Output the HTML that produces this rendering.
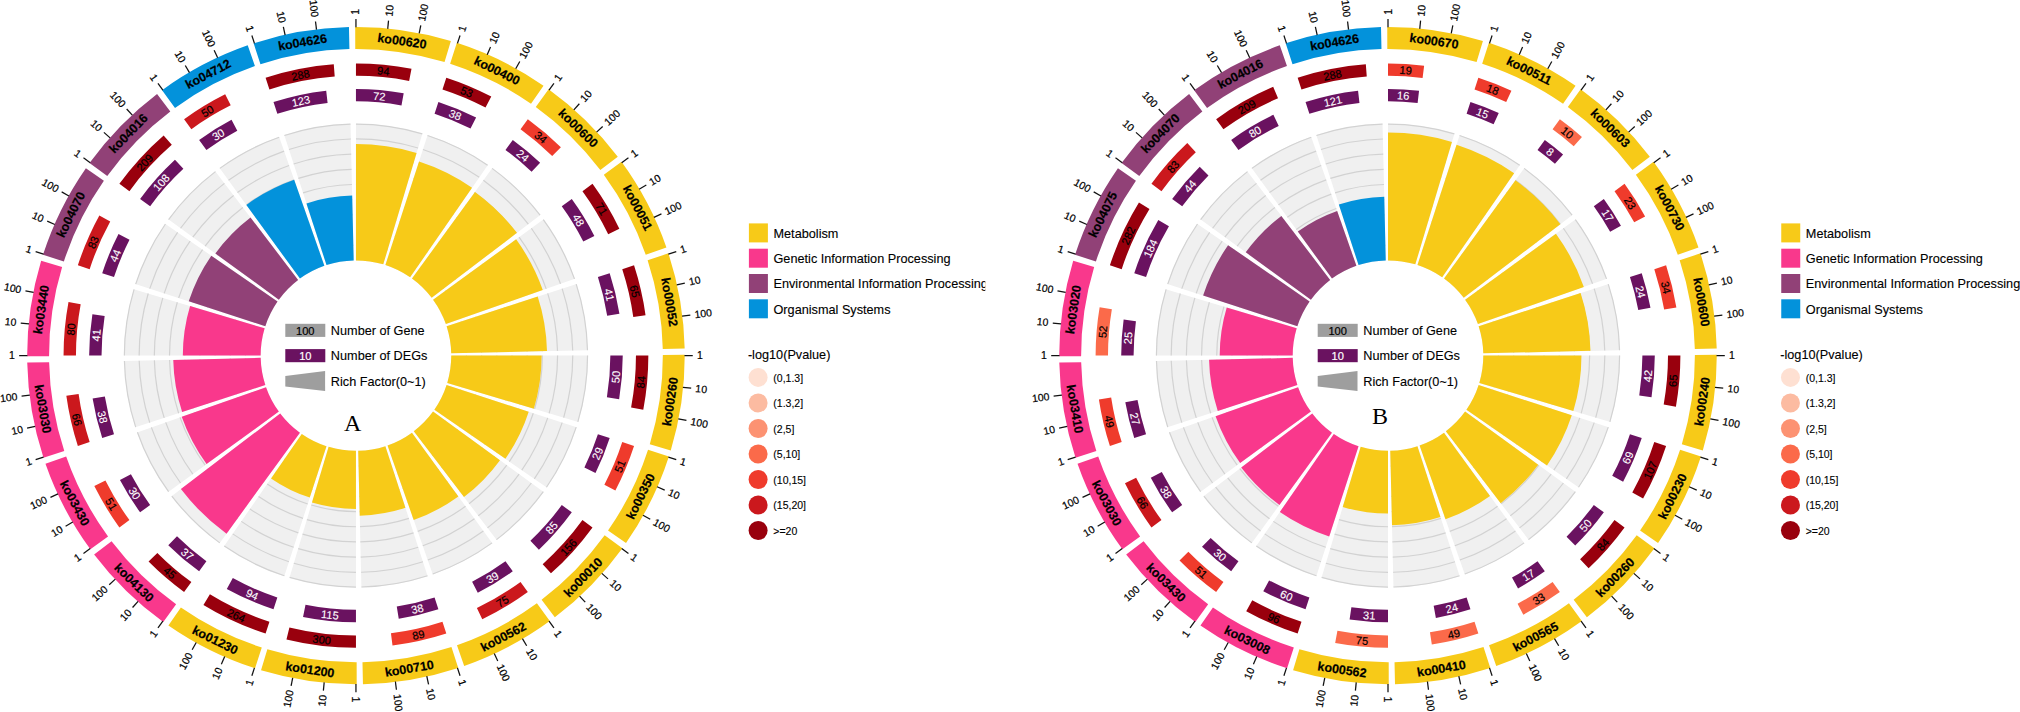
<!DOCTYPE html>
<html lang="en"><head><meta charset="utf-8"><title>KEGG enrichment circle plots</title>
<style>
html,body{margin:0;padding:0;background:#fff;}
body{width:2020px;height:712px;overflow:hidden;}
svg{display:block;}
text{font-family:"Liberation Sans",Arial,Helvetica,sans-serif;fill:#000;stroke:#000;stroke-width:0.2px;}
.ax{font-size:10.45px;dominant-baseline:central;}
.nu{font-size:11.1px;text-anchor:middle;dominant-baseline:central;}
.nm{font-size:12.5px;font-weight:bold;text-anchor:middle;dominant-baseline:central;fill:#000;}
.lg{font-size:12.7px;stroke-width:0.12px;}
.l2{font-size:10.5px;stroke-width:0.12px;}
.ab{font-family:"Liberation Serif","Times New Roman",serif;font-size:24px;text-anchor:middle;fill:#000;stroke:none;}
</style></head>
<body>
<svg width="2020" height="712" viewBox="0 0 2020 712">
<defs><clipPath id="clipA"><rect x="700" y="0" width="285.3" height="712"/></clipPath></defs>
<rect width="2020" height="712" fill="#fff"/>
<g transform="translate(355.95 355.62) scale(1 0.9994) translate(-355.95 -355.62)">
<path d="M355.95 123.62A232 232 0 0 1 422.42 133.35L383.26 264.32A95.3 95.3 0 0 0 355.95 260.32Z" fill="#F0F0F0"/>
<path d="M355.95 245.13A110.49 110.49 0 0 1 387.61 249.76" fill="none" stroke="#D2D2D2" stroke-width="1.2"/>
<path d="M355.95 229.94A125.68 125.68 0 0 1 391.96 235.21" fill="none" stroke="#D2D2D2" stroke-width="1.2"/>
<path d="M355.95 214.75A140.87 140.87 0 0 1 396.31 220.66" fill="none" stroke="#D2D2D2" stroke-width="1.2"/>
<path d="M355.95 199.56A156.06 156.06 0 0 1 400.66 206.11" fill="none" stroke="#D2D2D2" stroke-width="1.2"/>
<path d="M355.95 184.38A171.24 171.24 0 0 1 405.02 191.56" fill="none" stroke="#D2D2D2" stroke-width="1.2"/>
<path d="M355.95 169.19A186.43 186.43 0 0 1 409.37 177" fill="none" stroke="#D2D2D2" stroke-width="1.2"/>
<path d="M355.95 154A201.62 201.62 0 0 1 413.72 162.45" fill="none" stroke="#D2D2D2" stroke-width="1.2"/>
<path d="M355.95 138.81A216.81 216.81 0 0 1 418.07 147.9" fill="none" stroke="#D2D2D2" stroke-width="1.2"/>
<path d="M355.95 124.02A231.6 231.6 0 0 1 422.31 133.73" fill="none" stroke="#D2D2D2" stroke-width="1.2"/>
<path d="M355.95 143.98A211.64 211.64 0 0 1 416.59 152.85L383.26 264.32A95.3 95.3 0 0 0 355.95 260.32Z" fill="#F7CA18"/>
<path d="M355.2 26.82A328.8 328.8 0 0 1 450.87 40.82L444.55 61.79A306.9 306.9 0 0 0 355.25 48.72Z" fill="#F7CA18"/>
<path d="M355.95 27.12L355.95 18.82" stroke="#111" stroke-width="1.25"/>
<text class="ax" text-anchor="start" transform="translate(355.95 14.52) rotate(-90)">1</text>
<path d="M387.72 28.66L388.52 20.4" stroke="#111" stroke-width="1.25"/>
<text class="ax" text-anchor="start" transform="translate(388.94 16.12) rotate(-84.45)">10</text>
<path d="M419.19 33.27L420.79 25.12" stroke="#111" stroke-width="1.25"/>
<text class="ax" text-anchor="start" transform="translate(421.62 20.9) rotate(-78.9)">100</text>
<text class="nm" transform="translate(401.97 41.12) rotate(8.32)">ko00620</text>
<path d="M355.95 63.22A292.4 292.4 0 0 1 411.5 68.54L409.14 80.72A280 280 0 0 0 355.95 75.62Z" fill="#99000D"/>
<text class="nu" transform="translate(383.26 70.73) rotate(5.48)">94</text>
<path d="M355.95 88.82A266.8 266.8 0 0 1 403.69 93.13L401.47 105.33A254.4 254.4 0 0 0 355.95 101.22Z" fill="#6A1260"/>
<text class="nu" transform="translate(379.36 96.07) rotate(5.15)" style="fill:#fff;stroke:#fff;stroke-width:0.1px">72</text>
<path d="M427.64 134.97A232 232 0 0 1 487.86 164.77L410.13 277.22A95.3 95.3 0 0 0 385.4 264.98Z" fill="#F0F0F0"/>
<path d="M390.09 250.54A110.49 110.49 0 0 1 418.77 264.73" fill="none" stroke="#D2D2D2" stroke-width="1.2"/>
<path d="M394.79 236.09A125.68 125.68 0 0 1 427.41 252.23" fill="none" stroke="#D2D2D2" stroke-width="1.2"/>
<path d="M399.48 221.65A140.87 140.87 0 0 1 436.04 239.74" fill="none" stroke="#D2D2D2" stroke-width="1.2"/>
<path d="M404.17 207.2A156.06 156.06 0 0 1 444.68 227.24" fill="none" stroke="#D2D2D2" stroke-width="1.2"/>
<path d="M408.87 192.76A171.24 171.24 0 0 1 453.31 214.75" fill="none" stroke="#D2D2D2" stroke-width="1.2"/>
<path d="M413.56 178.31A186.43 186.43 0 0 1 461.95 202.25" fill="none" stroke="#D2D2D2" stroke-width="1.2"/>
<path d="M418.25 163.87A201.62 201.62 0 0 1 470.58 189.76" fill="none" stroke="#D2D2D2" stroke-width="1.2"/>
<path d="M422.95 149.42A216.81 216.81 0 0 1 479.22 177.26" fill="none" stroke="#D2D2D2" stroke-width="1.2"/>
<path d="M427.52 135.36A231.6 231.6 0 0 1 487.63 165.1" fill="none" stroke="#D2D2D2" stroke-width="1.2"/>
<path d="M419.05 161.41A204.2 204.2 0 0 1 472.05 187.64L410.13 277.22A95.3 95.3 0 0 0 385.4 264.98Z" fill="#F7CA18"/>
<path d="M456.85 42.68A328.8 328.8 0 0 1 543.51 85.56L531.01 103.55A306.9 306.9 0 0 0 450.12 63.53Z" fill="#F7CA18"/>
<path d="M457.46 43.2L460.03 35.3" stroke="#111" stroke-width="1.25"/>
<text class="ax" text-anchor="start" transform="translate(461.36 31.21) rotate(-72)">1</text>
<path d="M487.2 54.48L490.52 46.87" stroke="#111" stroke-width="1.25"/>
<text class="ax" text-anchor="start" transform="translate(492.24 42.93) rotate(-66.45)">10</text>
<path d="M515.71 68.59L519.75 61.33" stroke="#111" stroke-width="1.25"/>
<text class="ax" text-anchor="start" transform="translate(521.84 57.58) rotate(-60.9)">100</text>
<text class="nm" transform="translate(496.9 70.73) rotate(26.32)">ko00400</text>
<path d="M446.31 77.53A292.4 292.4 0 0 1 491.28 96.42L485.54 107.41A280 280 0 0 0 442.47 89.32Z" fill="#99000D"/>
<text class="nu" transform="translate(466.79 91.75) rotate(22.78)">53</text>
<path d="M438.4 101.88A266.8 266.8 0 0 1 476.11 117.41L470.53 128.48A254.4 254.4 0 0 0 434.56 113.67Z" fill="#6A1260"/>
<text class="nu" transform="translate(455.19 114.66) rotate(22.38)" style="fill:#fff;stroke:#fff;stroke-width:0.1px">38</text>
<path d="M492.32 167.93A232 232 0 0 1 540.38 214.87L431.71 297.8A95.3 95.3 0 0 0 411.97 278.52Z" fill="#F0F0F0"/>
<path d="M420.89 266.23A110.49 110.49 0 0 1 443.78 288.59" fill="none" stroke="#D2D2D2" stroke-width="1.2"/>
<path d="M429.82 253.94A125.68 125.68 0 0 1 455.86 279.37" fill="none" stroke="#D2D2D2" stroke-width="1.2"/>
<path d="M438.75 241.66A140.87 140.87 0 0 1 467.93 270.16" fill="none" stroke="#D2D2D2" stroke-width="1.2"/>
<path d="M447.68 229.37A156.06 156.06 0 0 1 480.01 260.94" fill="none" stroke="#D2D2D2" stroke-width="1.2"/>
<path d="M456.6 217.08A171.24 171.24 0 0 1 492.08 251.73" fill="none" stroke="#D2D2D2" stroke-width="1.2"/>
<path d="M465.53 204.79A186.43 186.43 0 0 1 504.15 242.51" fill="none" stroke="#D2D2D2" stroke-width="1.2"/>
<path d="M474.46 192.5A201.62 201.62 0 0 1 516.23 233.3" fill="none" stroke="#D2D2D2" stroke-width="1.2"/>
<path d="M483.39 180.22A216.81 216.81 0 0 1 528.3 224.08" fill="none" stroke="#D2D2D2" stroke-width="1.2"/>
<path d="M492.08 168.25A231.6 231.6 0 0 1 540.06 215.11" fill="none" stroke="#D2D2D2" stroke-width="1.2"/>
<path d="M474.99 191.78A202.52 202.52 0 0 1 516.94 232.76L431.71 297.8A95.3 95.3 0 0 0 411.97 278.52Z" fill="#F7CA18"/>
<path d="M548.61 89.18A328.8 328.8 0 0 1 617.78 156.74L600.34 169.98A306.9 306.9 0 0 0 535.78 106.92Z" fill="#F7CA18"/>
<path d="M549.04 89.86L553.92 83.14" stroke="#111" stroke-width="1.25"/>
<text class="ax" text-anchor="start" transform="translate(556.44 79.66) rotate(-54)">1</text>
<path d="M573.84 109.78L579.34 103.57" stroke="#111" stroke-width="1.25"/>
<text class="ax" text-anchor="start" transform="translate(582.19 100.35) rotate(-48.45)">10</text>
<path d="M596.59 132L602.67 126.35" stroke="#111" stroke-width="1.25"/>
<text class="ax" text-anchor="start" transform="translate(605.82 123.43) rotate(-42.9)">100</text>
<text class="nm" transform="translate(578.04 128.23) rotate(44.32)">ko00600</text>
<path d="M527.82 119.06A292.4 292.4 0 0 1 560.89 147.06L552.2 155.91A280 280 0 0 0 520.53 129.1Z" fill="#EF3B2C"/>
<text class="nu" transform="translate(540.87 137.18) rotate(40.25)">34</text>
<path d="M512.77 139.77A266.8 266.8 0 0 1 540.14 162.6L531.58 171.58A254.4 254.4 0 0 0 505.48 149.81Z" fill="#6A1260"/>
<text class="nu" transform="translate(522.87 155.49) rotate(39.83)" style="fill:#fff;stroke:#fff;stroke-width:0.1px">24</text>
<path d="M543.64 219.25A232 232 0 0 1 574.84 278.75L445.87 324.04A95.3 95.3 0 0 0 433.05 299.6Z" fill="#F0F0F0"/>
<path d="M445.34 290.68A110.49 110.49 0 0 1 460.2 319.01" fill="none" stroke="#D2D2D2" stroke-width="1.2"/>
<path d="M457.63 281.75A125.68 125.68 0 0 1 474.53 313.98" fill="none" stroke="#D2D2D2" stroke-width="1.2"/>
<path d="M469.91 272.82A140.87 140.87 0 0 1 488.86 308.95" fill="none" stroke="#D2D2D2" stroke-width="1.2"/>
<path d="M482.2 263.89A156.06 156.06 0 0 1 503.19 303.91" fill="none" stroke="#D2D2D2" stroke-width="1.2"/>
<path d="M494.49 254.97A171.24 171.24 0 0 1 517.52 298.88" fill="none" stroke="#D2D2D2" stroke-width="1.2"/>
<path d="M506.78 246.04A186.43 186.43 0 0 1 531.85 293.85" fill="none" stroke="#D2D2D2" stroke-width="1.2"/>
<path d="M519.07 237.11A201.62 201.62 0 0 1 546.18 288.81" fill="none" stroke="#D2D2D2" stroke-width="1.2"/>
<path d="M531.35 228.18A216.81 216.81 0 0 1 560.51 283.78" fill="none" stroke="#D2D2D2" stroke-width="1.2"/>
<path d="M543.32 219.49A231.6 231.6 0 0 1 574.47 278.88" fill="none" stroke="#D2D2D2" stroke-width="1.2"/>
<path d="M516.12 239.25A197.99 197.99 0 0 1 542.75 290.02L445.87 324.04A95.3 95.3 0 0 0 433.05 299.6Z" fill="#F7CA18"/>
<path d="M621.52 161.75A328.8 328.8 0 0 1 666.42 247.38L645.74 254.59A306.9 306.9 0 0 0 603.83 174.67Z" fill="#F7CA18"/>
<path d="M621.71 162.53L628.43 157.65" stroke="#111" stroke-width="1.25"/>
<text class="ax" text-anchor="start" transform="translate(631.91 155.13) rotate(-36)">1</text>
<path d="M639.14 189.14L646.3 184.93" stroke="#111" stroke-width="1.25"/>
<text class="ax" text-anchor="start" transform="translate(650 182.76) rotate(-30.45)">10</text>
<path d="M653.91 217.31L661.44 213.82" stroke="#111" stroke-width="1.25"/>
<text class="ax" text-anchor="start" transform="translate(665.34 212) rotate(-24.9)">100</text>
<text class="nm" transform="translate(637.44 207.99) rotate(62.32)">ko00051</text>
<path d="M592.51 183.75A292.4 292.4 0 0 1 619.37 228.7L608.2 234.08A280 280 0 0 0 582.47 191.04Z" fill="#99000D"/>
<text class="nu" transform="translate(601.62 208.8) rotate(59.14)">71</text>
<path d="M571.8 198.8A266.8 266.8 0 0 1 594.37 235.87L583.29 241.44A254.4 254.4 0 0 0 561.76 206.09Z" fill="#6A1260"/>
<text class="nu" transform="translate(578.54 220.1) rotate(58.67)" style="fill:#fff;stroke:#fff;stroke-width:0.1px">48</text>
<path d="M576.6 283.93A232 232 0 0 1 587.89 350.15L451.22 353.37A95.3 95.3 0 0 0 446.59 326.17Z" fill="#F0F0F0"/>
<path d="M461.03 321.48A110.49 110.49 0 0 1 466.41 353.02" fill="none" stroke="#D2D2D2" stroke-width="1.2"/>
<path d="M475.48 316.78A125.68 125.68 0 0 1 481.59 352.66" fill="none" stroke="#D2D2D2" stroke-width="1.2"/>
<path d="M489.92 312.09A140.87 140.87 0 0 1 496.78 352.3" fill="none" stroke="#D2D2D2" stroke-width="1.2"/>
<path d="M504.37 307.4A156.06 156.06 0 0 1 511.96 351.94" fill="none" stroke="#D2D2D2" stroke-width="1.2"/>
<path d="M518.81 302.7A171.24 171.24 0 0 1 527.15 351.59" fill="none" stroke="#D2D2D2" stroke-width="1.2"/>
<path d="M533.26 298.01A186.43 186.43 0 0 1 542.33 351.23" fill="none" stroke="#D2D2D2" stroke-width="1.2"/>
<path d="M547.7 293.32A201.62 201.62 0 0 1 557.52 350.87" fill="none" stroke="#D2D2D2" stroke-width="1.2"/>
<path d="M562.15 288.62A216.81 216.81 0 0 1 572.7 350.51" fill="none" stroke="#D2D2D2" stroke-width="1.2"/>
<path d="M576.21 284.05A231.6 231.6 0 0 1 587.49 350.16" fill="none" stroke="#D2D2D2" stroke-width="1.2"/>
<path d="M537.7 296.56A191.11 191.11 0 0 1 547 351.12L451.22 353.37A95.3 95.3 0 0 0 446.59 326.17Z" fill="#F7CA18"/>
<path d="M668.43 253.31A328.8 328.8 0 0 1 684.68 348.62L662.78 349.09A306.9 306.9 0 0 0 647.61 260.12Z" fill="#F7CA18"/>
<path d="M668.37 254.11L676.27 251.54" stroke="#111" stroke-width="1.25"/>
<text class="ax" text-anchor="start" transform="translate(680.36 250.21) rotate(-18)">1</text>
<path d="M676.73 284.8L684.83 283.01" stroke="#111" stroke-width="1.25"/>
<text class="ax" text-anchor="start" transform="translate(689.03 282.08) rotate(-12.45)">10</text>
<path d="M682.07 316.16L690.31 315.16" stroke="#111" stroke-width="1.25"/>
<text class="ax" text-anchor="start" transform="translate(694.58 314.64) rotate(-6.9)">100</text>
<text class="nm" transform="translate(669.28 302.2) rotate(80.32)">ko00052</text>
<path d="M634.04 265.26A292.4 292.4 0 0 1 645.55 315.24L633.27 316.95A280 280 0 0 0 622.25 269.1Z" fill="#99000D"/>
<text class="nu" transform="translate(634.85 291.39) rotate(77.03)">65</text>
<path d="M609.69 273.17A266.8 266.8 0 0 1 619.43 313.66L607.18 315.61A254.4 254.4 0 0 0 597.9 277.01Z" fill="#6A1260"/>
<text class="nu" transform="translate(609.32 294.68) rotate(76.48)" style="fill:#fff;stroke:#fff;stroke-width:0.1px">41</text>
<path d="M587.95 355.62A232 232 0 0 1 578.22 422.09L447.25 382.93A95.3 95.3 0 0 0 451.25 355.62Z" fill="#F0F0F0"/>
<path d="M466.44 355.62A110.49 110.49 0 0 1 461.81 387.28" fill="none" stroke="#D2D2D2" stroke-width="1.2"/>
<path d="M481.63 355.62A125.68 125.68 0 0 1 476.36 391.63" fill="none" stroke="#D2D2D2" stroke-width="1.2"/>
<path d="M496.82 355.62A140.87 140.87 0 0 1 490.91 395.98" fill="none" stroke="#D2D2D2" stroke-width="1.2"/>
<path d="M512.01 355.62A156.06 156.06 0 0 1 505.46 400.33" fill="none" stroke="#D2D2D2" stroke-width="1.2"/>
<path d="M527.19 355.62A171.24 171.24 0 0 1 520.01 404.69" fill="none" stroke="#D2D2D2" stroke-width="1.2"/>
<path d="M542.38 355.62A186.43 186.43 0 0 1 534.57 409.04" fill="none" stroke="#D2D2D2" stroke-width="1.2"/>
<path d="M557.57 355.62A201.62 201.62 0 0 1 549.12 413.39" fill="none" stroke="#D2D2D2" stroke-width="1.2"/>
<path d="M572.76 355.62A216.81 216.81 0 0 1 563.67 417.74" fill="none" stroke="#D2D2D2" stroke-width="1.2"/>
<path d="M587.55 355.62A231.6 231.6 0 0 1 577.84 421.98" fill="none" stroke="#D2D2D2" stroke-width="1.2"/>
<path d="M541.66 355.62A185.71 185.71 0 0 1 533.87 408.83L447.25 382.93A95.3 95.3 0 0 0 451.25 355.62Z" fill="#F7CA18"/>
<path d="M684.75 354.87A328.8 328.8 0 0 1 670.75 450.54L649.78 444.22A306.9 306.9 0 0 0 662.85 354.92Z" fill="#F7CA18"/>
<path d="M684.45 355.62L692.75 355.62" stroke="#111" stroke-width="1.25"/>
<text class="ax" text-anchor="start" transform="translate(697.05 355.62) rotate(0)">1</text>
<path d="M682.91 387.39L691.17 388.19" stroke="#111" stroke-width="1.25"/>
<text class="ax" text-anchor="start" transform="translate(695.45 388.61) rotate(5.55)">10</text>
<path d="M678.3 418.86L686.45 420.46" stroke="#111" stroke-width="1.25"/>
<text class="ax" text-anchor="start" transform="translate(690.67 421.29) rotate(11.1)">100</text>
<text class="nm" transform="translate(670.45 401.64) rotate(-81.68)">ko00260</text>
<path d="M648.35 355.62A292.4 292.4 0 0 1 643.29 409.81L631.1 407.51A280 280 0 0 0 635.95 355.62Z" fill="#99000D"/>
<text class="nu" transform="translate(640.91 382.25) rotate(-84.66)">84</text>
<path d="M622.75 355.62A266.8 266.8 0 0 1 619.15 399.33L606.91 397.3A254.4 254.4 0 0 0 610.35 355.62Z" fill="#6A1260"/>
<text class="nu" transform="translate(615.67 377.04) rotate(-85.29)" style="fill:#fff;stroke:#fff;stroke-width:0.1px">50</text>
<path d="M576.6 427.31A232 232 0 0 1 546.8 487.53L434.35 409.8A95.3 95.3 0 0 0 446.59 385.07Z" fill="#F0F0F0"/>
<path d="M461.03 389.76A110.49 110.49 0 0 1 446.84 418.44" fill="none" stroke="#D2D2D2" stroke-width="1.2"/>
<path d="M475.48 394.46A125.68 125.68 0 0 1 459.34 427.08" fill="none" stroke="#D2D2D2" stroke-width="1.2"/>
<path d="M489.92 399.15A140.87 140.87 0 0 1 471.83 435.71" fill="none" stroke="#D2D2D2" stroke-width="1.2"/>
<path d="M504.37 403.84A156.06 156.06 0 0 1 484.33 444.35" fill="none" stroke="#D2D2D2" stroke-width="1.2"/>
<path d="M518.81 408.54A171.24 171.24 0 0 1 496.82 452.98" fill="none" stroke="#D2D2D2" stroke-width="1.2"/>
<path d="M533.26 413.23A186.43 186.43 0 0 1 509.32 461.62" fill="none" stroke="#D2D2D2" stroke-width="1.2"/>
<path d="M547.7 417.92A201.62 201.62 0 0 1 521.81 470.25" fill="none" stroke="#D2D2D2" stroke-width="1.2"/>
<path d="M562.15 422.62A216.81 216.81 0 0 1 534.31 478.89" fill="none" stroke="#D2D2D2" stroke-width="1.2"/>
<path d="M576.21 427.19A231.6 231.6 0 0 1 546.47 487.3" fill="none" stroke="#D2D2D2" stroke-width="1.2"/>
<path d="M528.73 411.76A181.67 181.67 0 0 1 505.4 458.91L434.35 409.8A95.3 95.3 0 0 0 446.59 385.07Z" fill="#F7CA18"/>
<path d="M668.89 456.52A328.8 328.8 0 0 1 626.01 543.18L608.02 530.68A306.9 306.9 0 0 0 648.04 449.79Z" fill="#F7CA18"/>
<path d="M668.37 457.13L676.27 459.7" stroke="#111" stroke-width="1.25"/>
<text class="ax" text-anchor="start" transform="translate(680.36 461.03) rotate(18)">1</text>
<path d="M657.09 486.87L664.7 490.19" stroke="#111" stroke-width="1.25"/>
<text class="ax" text-anchor="start" transform="translate(668.64 491.91) rotate(23.55)">10</text>
<path d="M642.98 515.38L650.24 519.42" stroke="#111" stroke-width="1.25"/>
<text class="ax" text-anchor="start" transform="translate(653.99 521.51) rotate(29.1)">100</text>
<text class="nm" transform="translate(640.84 496.57) rotate(-63.68)">ko00350</text>
<path d="M634.04 445.98A292.4 292.4 0 0 1 615.37 490.53L604.36 484.81A280 280 0 0 0 622.25 442.14Z" fill="#EF3B2C"/>
<text class="nu" transform="translate(619.91 466.24) rotate(-67.26)">51</text>
<path d="M609.69 438.07A266.8 266.8 0 0 1 595.51 473.06L584.38 467.61A254.4 254.4 0 0 0 597.9 434.23Z" fill="#6A1260"/>
<text class="nu" transform="translate(597.47 453.49) rotate(-67.94)" style="fill:#fff;stroke:#fff;stroke-width:0.1px">29</text>
<path d="M543.64 491.99A232 232 0 0 1 496.7 540.05L413.77 431.38A95.3 95.3 0 0 0 433.05 411.64Z" fill="#F0F0F0"/>
<path d="M445.34 420.56A110.49 110.49 0 0 1 422.98 443.45" fill="none" stroke="#D2D2D2" stroke-width="1.2"/>
<path d="M457.63 429.49A125.68 125.68 0 0 1 432.2 455.53" fill="none" stroke="#D2D2D2" stroke-width="1.2"/>
<path d="M469.91 438.42A140.87 140.87 0 0 1 441.41 467.6" fill="none" stroke="#D2D2D2" stroke-width="1.2"/>
<path d="M482.2 447.35A156.06 156.06 0 0 1 450.63 479.68" fill="none" stroke="#D2D2D2" stroke-width="1.2"/>
<path d="M494.49 456.27A171.24 171.24 0 0 1 459.84 491.75" fill="none" stroke="#D2D2D2" stroke-width="1.2"/>
<path d="M506.78 465.2A186.43 186.43 0 0 1 469.06 503.82" fill="none" stroke="#D2D2D2" stroke-width="1.2"/>
<path d="M519.07 474.13A201.62 201.62 0 0 1 478.27 515.9" fill="none" stroke="#D2D2D2" stroke-width="1.2"/>
<path d="M531.35 483.06A216.81 216.81 0 0 1 487.49 527.97" fill="none" stroke="#D2D2D2" stroke-width="1.2"/>
<path d="M543.32 491.75A231.6 231.6 0 0 1 496.46 539.73" fill="none" stroke="#D2D2D2" stroke-width="1.2"/>
<path d="M500 460.28A178.06 178.06 0 0 1 463.98 497.17L413.77 431.38A95.3 95.3 0 0 0 433.05 411.64Z" fill="#F7CA18"/>
<path d="M622.39 548.28A328.8 328.8 0 0 1 554.83 617.45L541.59 600.01A306.9 306.9 0 0 0 604.65 535.45Z" fill="#F7CA18"/>
<path d="M621.71 548.71L628.43 553.59" stroke="#111" stroke-width="1.25"/>
<text class="ax" text-anchor="start" transform="translate(631.91 556.11) rotate(36)">1</text>
<path d="M601.79 573.51L608 579.01" stroke="#111" stroke-width="1.25"/>
<text class="ax" text-anchor="start" transform="translate(611.22 581.86) rotate(41.55)">10</text>
<path d="M579.57 596.26L585.22 602.34" stroke="#111" stroke-width="1.25"/>
<text class="ax" text-anchor="start" transform="translate(588.14 605.49) rotate(47.1)">100</text>
<text class="nm" transform="translate(583.34 577.71) rotate(-45.68)">ko00010</text>
<path d="M592.51 527.49A292.4 292.4 0 0 1 550.95 573.5L542.68 564.26A280 280 0 0 0 582.47 520.2Z" fill="#99000D"/>
<text class="nu" transform="translate(568.35 547.44) rotate(-47.91)">156</text>
<path d="M571.8 512.44A266.8 266.8 0 0 1 538.9 549.82L530.4 540.79A254.4 254.4 0 0 0 561.76 505.15Z" fill="#6A1260"/>
<text class="nu" transform="translate(551.57 527.8) rotate(-48.65)" style="fill:#fff;stroke:#fff;stroke-width:0.1px">85</text>
<path d="M492.32 543.31A232 232 0 0 1 432.82 574.51L387.53 445.54A95.3 95.3 0 0 0 411.97 432.72Z" fill="#F0F0F0"/>
<path d="M420.89 445.01A110.49 110.49 0 0 1 392.56 459.87" fill="none" stroke="#D2D2D2" stroke-width="1.2"/>
<path d="M429.82 457.3A125.68 125.68 0 0 1 397.59 474.2" fill="none" stroke="#D2D2D2" stroke-width="1.2"/>
<path d="M438.75 469.58A140.87 140.87 0 0 1 402.62 488.53" fill="none" stroke="#D2D2D2" stroke-width="1.2"/>
<path d="M447.68 481.87A156.06 156.06 0 0 1 407.66 502.86" fill="none" stroke="#D2D2D2" stroke-width="1.2"/>
<path d="M456.6 494.16A171.24 171.24 0 0 1 412.69 517.19" fill="none" stroke="#D2D2D2" stroke-width="1.2"/>
<path d="M465.53 506.45A186.43 186.43 0 0 1 417.72 531.52" fill="none" stroke="#D2D2D2" stroke-width="1.2"/>
<path d="M474.46 518.74A201.62 201.62 0 0 1 422.76 545.85" fill="none" stroke="#D2D2D2" stroke-width="1.2"/>
<path d="M483.39 531.02A216.81 216.81 0 0 1 427.79 560.18" fill="none" stroke="#D2D2D2" stroke-width="1.2"/>
<path d="M492.08 542.99A231.6 231.6 0 0 1 432.69 574.14" fill="none" stroke="#D2D2D2" stroke-width="1.2"/>
<path d="M458.39 496.62A174.28 174.28 0 0 1 413.7 520.06L387.53 445.54A95.3 95.3 0 0 0 411.97 432.72Z" fill="#F7CA18"/>
<path d="M549.82 621.19A328.8 328.8 0 0 1 464.19 666.09L456.98 645.41A306.9 306.9 0 0 0 536.9 603.5Z" fill="#F7CA18"/>
<path d="M549.04 621.38L553.92 628.1" stroke="#111" stroke-width="1.25"/>
<text class="ax" text-anchor="start" transform="translate(556.44 631.58) rotate(54)">1</text>
<path d="M522.43 638.81L526.64 645.97" stroke="#111" stroke-width="1.25"/>
<text class="ax" text-anchor="start" transform="translate(528.81 649.67) rotate(59.55)">10</text>
<path d="M494.26 653.58L497.75 661.11" stroke="#111" stroke-width="1.25"/>
<text class="ax" text-anchor="start" transform="translate(499.57 665.01) rotate(65.1)">100</text>
<text class="nm" transform="translate(503.58 637.11) rotate(-27.67)">ko00562</text>
<path d="M527.82 592.18A292.4 292.4 0 0 1 482.26 619.33L476.9 608.15A280 280 0 0 0 520.53 582.14Z" fill="#CB181D"/>
<text class="nu" transform="translate(502.48 601.46) rotate(-30.8)">75</text>
<path d="M512.77 571.47A266.8 266.8 0 0 1 477.78 592.98L472.12 581.95A254.4 254.4 0 0 0 505.48 561.43Z" fill="#6A1260"/>
<text class="nu" transform="translate(492.44 577.62) rotate(-31.58)" style="fill:#fff;stroke:#fff;stroke-width:0.1px">39</text>
<path d="M427.64 576.27A232 232 0 0 1 361.42 587.56L358.2 450.89A95.3 95.3 0 0 0 385.4 446.26Z" fill="#F0F0F0"/>
<path d="M390.09 460.7A110.49 110.49 0 0 1 358.55 466.08" fill="none" stroke="#D2D2D2" stroke-width="1.2"/>
<path d="M394.79 475.15A125.68 125.68 0 0 1 358.91 481.26" fill="none" stroke="#D2D2D2" stroke-width="1.2"/>
<path d="M399.48 489.59A140.87 140.87 0 0 1 359.27 496.45" fill="none" stroke="#D2D2D2" stroke-width="1.2"/>
<path d="M404.17 504.04A156.06 156.06 0 0 1 359.63 511.63" fill="none" stroke="#D2D2D2" stroke-width="1.2"/>
<path d="M408.87 518.48A171.24 171.24 0 0 1 359.98 526.82" fill="none" stroke="#D2D2D2" stroke-width="1.2"/>
<path d="M413.56 532.93A186.43 186.43 0 0 1 360.34 542" fill="none" stroke="#D2D2D2" stroke-width="1.2"/>
<path d="M418.25 547.37A201.62 201.62 0 0 1 360.7 557.19" fill="none" stroke="#D2D2D2" stroke-width="1.2"/>
<path d="M422.95 561.82A216.81 216.81 0 0 1 361.06 572.37" fill="none" stroke="#D2D2D2" stroke-width="1.2"/>
<path d="M427.52 575.88A231.6 231.6 0 0 1 361.41 587.16" fill="none" stroke="#D2D2D2" stroke-width="1.2"/>
<path d="M405.44 507.93A160.15 160.15 0 0 1 359.72 515.73L358.2 450.89A95.3 95.3 0 0 0 385.4 446.26Z" fill="#F7CA18"/>
<path d="M458.26 668.1A328.8 328.8 0 0 1 362.95 684.35L362.48 662.45A306.9 306.9 0 0 0 451.45 647.28Z" fill="#F7CA18"/>
<path d="M457.46 668.04L460.03 675.94" stroke="#111" stroke-width="1.25"/>
<text class="ax" text-anchor="start" transform="translate(461.36 680.03) rotate(72)">1</text>
<path d="M426.77 676.4L428.56 684.5" stroke="#111" stroke-width="1.25"/>
<text class="ax" text-anchor="start" transform="translate(429.49 688.7) rotate(77.55)">10</text>
<path d="M395.41 681.74L396.41 689.98" stroke="#111" stroke-width="1.25"/>
<text class="ax" text-anchor="start" transform="translate(396.93 694.25) rotate(83.1)">100</text>
<text class="nm" transform="translate(409.37 668.95) rotate(-9.67)">ko00710</text>
<path d="M446.31 633.71A292.4 292.4 0 0 1 392.5 645.73L390.95 633.42A280 280 0 0 0 442.47 621.92Z" fill="#EF3B2C"/>
<text class="nu" transform="translate(418.34 634.94) rotate(-12.59)">89</text>
<path d="M438.4 609.36A266.8 266.8 0 0 1 398.75 618.96L396.76 606.72A254.4 254.4 0 0 0 434.56 597.57Z" fill="#6A1260"/>
<text class="nu" transform="translate(417.3 608.9) rotate(-13.62)" style="fill:#fff;stroke:#fff;stroke-width:0.1px">38</text>
<path d="M355.95 587.62A232 232 0 0 1 289.48 577.89L328.64 446.92A95.3 95.3 0 0 0 355.95 450.92Z" fill="#F0F0F0"/>
<path d="M355.95 466.11A110.49 110.49 0 0 1 324.29 461.48" fill="none" stroke="#D2D2D2" stroke-width="1.2"/>
<path d="M355.95 481.3A125.68 125.68 0 0 1 319.94 476.03" fill="none" stroke="#D2D2D2" stroke-width="1.2"/>
<path d="M355.95 496.49A140.87 140.87 0 0 1 315.59 490.58" fill="none" stroke="#D2D2D2" stroke-width="1.2"/>
<path d="M355.95 511.68A156.06 156.06 0 0 1 311.24 505.13" fill="none" stroke="#D2D2D2" stroke-width="1.2"/>
<path d="M355.95 526.86A171.24 171.24 0 0 1 306.88 519.68" fill="none" stroke="#D2D2D2" stroke-width="1.2"/>
<path d="M355.95 542.05A186.43 186.43 0 0 1 302.53 534.24" fill="none" stroke="#D2D2D2" stroke-width="1.2"/>
<path d="M355.95 557.24A201.62 201.62 0 0 1 298.18 548.79" fill="none" stroke="#D2D2D2" stroke-width="1.2"/>
<path d="M355.95 572.43A216.81 216.81 0 0 1 293.83 563.34" fill="none" stroke="#D2D2D2" stroke-width="1.2"/>
<path d="M355.95 587.22A231.6 231.6 0 0 1 289.59 577.51" fill="none" stroke="#D2D2D2" stroke-width="1.2"/>
<path d="M355.95 509.14A153.52 153.52 0 0 1 311.96 502.71L328.64 446.92A95.3 95.3 0 0 0 355.95 450.92Z" fill="#F7CA18"/>
<path d="M356.7 684.42A328.8 328.8 0 0 1 261.03 670.42L267.35 649.45A306.9 306.9 0 0 0 356.65 662.52Z" fill="#F7CA18"/>
<path d="M355.95 684.12L355.95 692.42" stroke="#111" stroke-width="1.25"/>
<text class="ax" text-anchor="start" transform="translate(355.95 696.72) rotate(90)">1</text>
<path d="M324.18 682.58L323.38 690.84" stroke="#111" stroke-width="1.25"/>
<text class="ax" text-anchor="end" transform="translate(322.96 695.12) rotate(-84.45)">10</text>
<path d="M292.71 677.97L291.11 686.12" stroke="#111" stroke-width="1.25"/>
<text class="ax" text-anchor="end" transform="translate(290.28 690.34) rotate(-78.9)">100</text>
<text class="nm" transform="translate(309.93 670.12) rotate(8.33)">ko01200</text>
<path d="M355.95 648.02A292.4 292.4 0 0 1 286.46 639.64L289.41 627.6A280 280 0 0 0 355.95 635.62Z" fill="#99000D"/>
<text class="nu" transform="translate(321.7 639.76) rotate(6.87)">300</text>
<path d="M355.95 622.42A266.8 266.8 0 0 1 303.05 617.12L305.51 604.97A254.4 254.4 0 0 0 355.95 610.02Z" fill="#6A1260"/>
<text class="nu" transform="translate(329.98 614.92) rotate(5.72)" style="fill:#fff;stroke:#fff;stroke-width:0.1px">115</text>
<path d="M284.26 576.27A232 232 0 0 1 224.04 546.47L301.77 434.02A95.3 95.3 0 0 0 326.5 446.26Z" fill="#F0F0F0"/>
<path d="M321.81 460.7A110.49 110.49 0 0 1 293.13 446.51" fill="none" stroke="#D2D2D2" stroke-width="1.2"/>
<path d="M317.11 475.15A125.68 125.68 0 0 1 284.49 459.01" fill="none" stroke="#D2D2D2" stroke-width="1.2"/>
<path d="M312.42 489.59A140.87 140.87 0 0 1 275.86 471.5" fill="none" stroke="#D2D2D2" stroke-width="1.2"/>
<path d="M307.73 504.04A156.06 156.06 0 0 1 267.22 484" fill="none" stroke="#D2D2D2" stroke-width="1.2"/>
<path d="M303.03 518.48A171.24 171.24 0 0 1 258.59 496.49" fill="none" stroke="#D2D2D2" stroke-width="1.2"/>
<path d="M298.34 532.93A186.43 186.43 0 0 1 249.95 508.99" fill="none" stroke="#D2D2D2" stroke-width="1.2"/>
<path d="M293.65 547.37A201.62 201.62 0 0 1 241.32 521.48" fill="none" stroke="#D2D2D2" stroke-width="1.2"/>
<path d="M288.95 561.82A216.81 216.81 0 0 1 232.68 533.98" fill="none" stroke="#D2D2D2" stroke-width="1.2"/>
<path d="M284.38 575.88A231.6 231.6 0 0 1 224.27 546.14" fill="none" stroke="#D2D2D2" stroke-width="1.2"/>
<path d="M309.79 497.69A149.38 149.38 0 0 1 271.02 478.51L301.77 434.02A95.3 95.3 0 0 0 326.5 446.26Z" fill="#F7CA18"/>
<path d="M255.05 668.56A328.8 328.8 0 0 1 168.39 625.68L180.89 607.69A306.9 306.9 0 0 0 261.78 647.71Z" fill="#F7CA18"/>
<path d="M254.44 668.04L251.87 675.94" stroke="#111" stroke-width="1.25"/>
<text class="ax" text-anchor="end" transform="translate(250.54 680.03) rotate(-72)">1</text>
<path d="M224.7 656.76L221.38 664.37" stroke="#111" stroke-width="1.25"/>
<text class="ax" text-anchor="end" transform="translate(219.66 668.31) rotate(-66.45)">10</text>
<path d="M196.19 642.65L192.15 649.91" stroke="#111" stroke-width="1.25"/>
<text class="ax" text-anchor="end" transform="translate(190.06 653.66) rotate(-60.9)">100</text>
<text class="nm" transform="translate(215 640.51) rotate(26.33)">ko01230</text>
<path d="M265.59 633.71A292.4 292.4 0 0 1 203.43 605.09L209.9 594.51A280 280 0 0 0 269.43 621.92Z" fill="#99000D"/>
<text class="nu" transform="translate(236.27 615.59) rotate(24.72)">264</text>
<path d="M273.5 609.36A266.8 266.8 0 0 1 226.8 589.08L232.81 578.23A254.4 254.4 0 0 0 277.34 597.57Z" fill="#6A1260"/>
<text class="nu" transform="translate(252.14 594.65) rotate(23.48)" style="fill:#fff;stroke:#fff;stroke-width:0.1px">94</text>
<path d="M219.58 543.31A232 232 0 0 1 171.52 496.37L280.19 413.44A95.3 95.3 0 0 0 299.93 432.72Z" fill="#F0F0F0"/>
<path d="M291.01 445.01A110.49 110.49 0 0 1 268.12 422.65" fill="none" stroke="#D2D2D2" stroke-width="1.2"/>
<path d="M282.08 457.3A125.68 125.68 0 0 1 256.04 431.87" fill="none" stroke="#D2D2D2" stroke-width="1.2"/>
<path d="M273.15 469.58A140.87 140.87 0 0 1 243.97 441.08" fill="none" stroke="#D2D2D2" stroke-width="1.2"/>
<path d="M264.22 481.87A156.06 156.06 0 0 1 231.89 450.3" fill="none" stroke="#D2D2D2" stroke-width="1.2"/>
<path d="M255.3 494.16A171.24 171.24 0 0 1 219.82 459.51" fill="none" stroke="#D2D2D2" stroke-width="1.2"/>
<path d="M246.37 506.45A186.43 186.43 0 0 1 207.75 468.73" fill="none" stroke="#D2D2D2" stroke-width="1.2"/>
<path d="M237.44 518.74A201.62 201.62 0 0 1 195.67 477.94" fill="none" stroke="#D2D2D2" stroke-width="1.2"/>
<path d="M228.51 531.02A216.81 216.81 0 0 1 183.6 487.16" fill="none" stroke="#D2D2D2" stroke-width="1.2"/>
<path d="M219.82 542.99A231.6 231.6 0 0 1 171.84 496.13" fill="none" stroke="#D2D2D2" stroke-width="1.2"/>
<path d="M226.53 533.75A220.19 220.19 0 0 1 180.91 489.2L280.19 413.44A95.3 95.3 0 0 0 299.93 432.72Z" fill="#F9388C"/>
<path d="M163.29 622.06A328.8 328.8 0 0 1 94.12 554.5L111.56 541.26A306.9 306.9 0 0 0 176.12 604.32Z" fill="#F9388C"/>
<path d="M162.86 621.38L157.98 628.1" stroke="#111" stroke-width="1.25"/>
<text class="ax" text-anchor="end" transform="translate(155.46 631.58) rotate(-54)">1</text>
<path d="M138.06 601.46L132.56 607.67" stroke="#111" stroke-width="1.25"/>
<text class="ax" text-anchor="end" transform="translate(129.71 610.89) rotate(-48.45)">10</text>
<path d="M115.31 579.24L109.23 584.89" stroke="#111" stroke-width="1.25"/>
<text class="ax" text-anchor="end" transform="translate(106.08 587.81) rotate(-42.9)">100</text>
<text class="nm" transform="translate(133.86 583.01) rotate(44.33)">ko04130</text>
<path d="M184.08 592.18A292.4 292.4 0 0 1 148.56 561.74L157.36 553A280 280 0 0 0 191.37 582.14Z" fill="#99000D"/>
<text class="nu" transform="translate(169.75 572.96) rotate(40.59)">45</text>
<path d="M199.13 571.47A266.8 266.8 0 0 1 168.27 545.25L177 536.44A254.4 254.4 0 0 0 206.42 561.43Z" fill="#6A1260"/>
<text class="nu" transform="translate(187.22 554.22) rotate(40.35)" style="fill:#fff;stroke:#fff;stroke-width:0.1px">37</text>
<path d="M168.26 491.99A232 232 0 0 1 137.06 432.49L266.03 387.2A95.3 95.3 0 0 0 278.85 411.64Z" fill="#F0F0F0"/>
<path d="M266.56 420.56A110.49 110.49 0 0 1 251.7 392.23" fill="none" stroke="#D2D2D2" stroke-width="1.2"/>
<path d="M254.27 429.49A125.68 125.68 0 0 1 237.37 397.26" fill="none" stroke="#D2D2D2" stroke-width="1.2"/>
<path d="M241.99 438.42A140.87 140.87 0 0 1 223.04 402.29" fill="none" stroke="#D2D2D2" stroke-width="1.2"/>
<path d="M229.7 447.35A156.06 156.06 0 0 1 208.71 407.33" fill="none" stroke="#D2D2D2" stroke-width="1.2"/>
<path d="M217.41 456.27A171.24 171.24 0 0 1 194.38 412.36" fill="none" stroke="#D2D2D2" stroke-width="1.2"/>
<path d="M205.12 465.2A186.43 186.43 0 0 1 180.05 417.39" fill="none" stroke="#D2D2D2" stroke-width="1.2"/>
<path d="M192.83 474.13A201.62 201.62 0 0 1 165.72 422.43" fill="none" stroke="#D2D2D2" stroke-width="1.2"/>
<path d="M180.55 483.06A216.81 216.81 0 0 1 151.39 427.46" fill="none" stroke="#D2D2D2" stroke-width="1.2"/>
<path d="M168.58 491.75A231.6 231.6 0 0 1 137.43 432.36" fill="none" stroke="#D2D2D2" stroke-width="1.2"/>
<path d="M206.57 464.15A184.65 184.65 0 0 1 181.73 416.8L266.03 387.2A95.3 95.3 0 0 0 278.85 411.64Z" fill="#F9388C"/>
<path d="M90.38 549.49A328.8 328.8 0 0 1 45.48 463.86L66.16 456.65A306.9 306.9 0 0 0 108.07 536.57Z" fill="#F9388C"/>
<path d="M90.19 548.71L83.47 553.59" stroke="#111" stroke-width="1.25"/>
<text class="ax" text-anchor="end" transform="translate(79.99 556.11) rotate(-36)">1</text>
<path d="M72.76 522.1L65.6 526.31" stroke="#111" stroke-width="1.25"/>
<text class="ax" text-anchor="end" transform="translate(61.9 528.48) rotate(-30.45)">10</text>
<path d="M57.99 493.93L50.46 497.42" stroke="#111" stroke-width="1.25"/>
<text class="ax" text-anchor="end" transform="translate(46.56 499.24) rotate(-24.9)">100</text>
<text class="nm" transform="translate(74.46 503.25) rotate(62.33)">ko03430</text>
<path d="M119.39 527.49A292.4 292.4 0 0 1 94.32 486.19L105.42 480.66A280 280 0 0 0 129.43 520.2Z" fill="#EF3B2C"/>
<text class="nu" transform="translate(111.3 504.14) rotate(58.74)">51</text>
<path d="M140.1 512.44A266.8 266.8 0 0 1 119.95 480.06L130.92 474.28A254.4 254.4 0 0 0 150.14 505.15Z" fill="#6A1260"/>
<text class="nu" transform="translate(134.71 493.33) rotate(58.1)" style="fill:#fff;stroke:#fff;stroke-width:0.1px">30</text>
<path d="M135.3 427.31A232 232 0 0 1 124.01 361.09L260.68 357.87A95.3 95.3 0 0 0 265.31 385.07Z" fill="#F0F0F0"/>
<path d="M250.87 389.76A110.49 110.49 0 0 1 245.49 358.22" fill="none" stroke="#D2D2D2" stroke-width="1.2"/>
<path d="M236.42 394.46A125.68 125.68 0 0 1 230.31 358.58" fill="none" stroke="#D2D2D2" stroke-width="1.2"/>
<path d="M221.98 399.15A140.87 140.87 0 0 1 215.12 358.94" fill="none" stroke="#D2D2D2" stroke-width="1.2"/>
<path d="M207.53 403.84A156.06 156.06 0 0 1 199.94 359.3" fill="none" stroke="#D2D2D2" stroke-width="1.2"/>
<path d="M193.09 408.54A171.24 171.24 0 0 1 184.75 359.65" fill="none" stroke="#D2D2D2" stroke-width="1.2"/>
<path d="M178.64 413.23A186.43 186.43 0 0 1 169.57 360.01" fill="none" stroke="#D2D2D2" stroke-width="1.2"/>
<path d="M164.2 417.92A201.62 201.62 0 0 1 154.38 360.37" fill="none" stroke="#D2D2D2" stroke-width="1.2"/>
<path d="M149.75 422.62A216.81 216.81 0 0 1 139.2 360.73" fill="none" stroke="#D2D2D2" stroke-width="1.2"/>
<path d="M135.69 427.19A231.6 231.6 0 0 1 124.41 361.08" fill="none" stroke="#D2D2D2" stroke-width="1.2"/>
<path d="M182.14 412.09A182.75 182.75 0 0 1 173.25 359.93L260.68 357.87A95.3 95.3 0 0 0 265.31 385.07Z" fill="#F9388C"/>
<path d="M43.47 457.93A328.8 328.8 0 0 1 27.22 362.62L49.12 362.15A306.9 306.9 0 0 0 64.29 451.12Z" fill="#F9388C"/>
<path d="M43.53 457.13L35.63 459.7" stroke="#111" stroke-width="1.25"/>
<text class="ax" text-anchor="end" transform="translate(31.54 461.03) rotate(-18)">1</text>
<path d="M35.17 426.44L27.07 428.23" stroke="#111" stroke-width="1.25"/>
<text class="ax" text-anchor="end" transform="translate(22.87 429.16) rotate(-12.45)">10</text>
<path d="M29.83 395.08L21.59 396.08" stroke="#111" stroke-width="1.25"/>
<text class="ax" text-anchor="end" transform="translate(17.32 396.6) rotate(-6.9)">100</text>
<text class="nm" transform="translate(42.62 409.04) rotate(80.33)">ko03030</text>
<path d="M77.86 445.98A292.4 292.4 0 0 1 66.33 395.82L78.61 394.11A280 280 0 0 0 89.65 442.14Z" fill="#CB181D"/>
<text class="nu" transform="translate(77.03 419.76) rotate(77.05)">66</text>
<path d="M102.21 438.07A266.8 266.8 0 0 1 92.61 398.42L104.85 396.43A254.4 254.4 0 0 0 114 434.23Z" fill="#6A1260"/>
<text class="nu" transform="translate(102.67 416.97) rotate(76.38)" style="fill:#fff;stroke:#fff;stroke-width:0.1px">38</text>
<path d="M123.95 355.62A232 232 0 0 1 133.68 289.15L264.65 328.31A95.3 95.3 0 0 0 260.65 355.62Z" fill="#F0F0F0"/>
<path d="M245.46 355.62A110.49 110.49 0 0 1 250.09 323.96" fill="none" stroke="#D2D2D2" stroke-width="1.2"/>
<path d="M230.27 355.62A125.68 125.68 0 0 1 235.54 319.61" fill="none" stroke="#D2D2D2" stroke-width="1.2"/>
<path d="M215.08 355.62A140.87 140.87 0 0 1 220.99 315.26" fill="none" stroke="#D2D2D2" stroke-width="1.2"/>
<path d="M199.89 355.62A156.06 156.06 0 0 1 206.44 310.91" fill="none" stroke="#D2D2D2" stroke-width="1.2"/>
<path d="M184.71 355.62A171.24 171.24 0 0 1 191.89 306.55" fill="none" stroke="#D2D2D2" stroke-width="1.2"/>
<path d="M169.52 355.62A186.43 186.43 0 0 1 177.33 302.2" fill="none" stroke="#D2D2D2" stroke-width="1.2"/>
<path d="M154.33 355.62A201.62 201.62 0 0 1 162.78 297.85" fill="none" stroke="#D2D2D2" stroke-width="1.2"/>
<path d="M139.14 355.62A216.81 216.81 0 0 1 148.23 293.5" fill="none" stroke="#D2D2D2" stroke-width="1.2"/>
<path d="M124.35 355.62A231.6 231.6 0 0 1 134.06 289.26" fill="none" stroke="#D2D2D2" stroke-width="1.2"/>
<path d="M182.81 355.62A173.14 173.14 0 0 1 190.07 306.01L264.65 328.31A95.3 95.3 0 0 0 260.65 355.62Z" fill="#F9388C"/>
<path d="M27.15 356.37A328.8 328.8 0 0 1 41.15 260.7L62.12 267.02A306.9 306.9 0 0 0 49.05 356.32Z" fill="#F9388C"/>
<path d="M27.45 355.62L19.15 355.62" stroke="#111" stroke-width="1.25"/>
<text class="ax" text-anchor="end" transform="translate(14.85 355.62) rotate(0)">1</text>
<path d="M28.99 323.85L20.73 323.05" stroke="#111" stroke-width="1.25"/>
<text class="ax" text-anchor="end" transform="translate(16.45 322.63) rotate(5.55)">10</text>
<path d="M33.6 292.38L25.45 290.78" stroke="#111" stroke-width="1.25"/>
<text class="ax" text-anchor="end" transform="translate(21.23 289.95) rotate(11.1)">100</text>
<text class="nm" transform="translate(41.45 309.6) rotate(-81.68)">ko03440</text>
<path d="M63.55 355.62A292.4 292.4 0 0 1 68.5 302.02L80.69 304.3A280 280 0 0 0 75.95 355.62Z" fill="#CB181D"/>
<text class="nu" transform="translate(70.96 329.28) rotate(-84.72)">80</text>
<path d="M89.15 355.62A266.8 266.8 0 0 1 92.4 314.11L104.65 316.04A254.4 254.4 0 0 0 101.55 355.62Z" fill="#6A1260"/>
<text class="nu" transform="translate(96.14 335.28) rotate(-85.52)" style="fill:#fff;stroke:#fff;stroke-width:0.1px">41</text>
<path d="M135.3 283.93A232 232 0 0 1 165.1 223.71L277.55 301.44A95.3 95.3 0 0 0 265.31 326.17Z" fill="#F0F0F0"/>
<path d="M250.87 321.48A110.49 110.49 0 0 1 265.06 292.8" fill="none" stroke="#D2D2D2" stroke-width="1.2"/>
<path d="M236.42 316.78A125.68 125.68 0 0 1 252.56 284.16" fill="none" stroke="#D2D2D2" stroke-width="1.2"/>
<path d="M221.98 312.09A140.87 140.87 0 0 1 240.07 275.53" fill="none" stroke="#D2D2D2" stroke-width="1.2"/>
<path d="M207.53 307.4A156.06 156.06 0 0 1 227.57 266.89" fill="none" stroke="#D2D2D2" stroke-width="1.2"/>
<path d="M193.09 302.7A171.24 171.24 0 0 1 215.08 258.26" fill="none" stroke="#D2D2D2" stroke-width="1.2"/>
<path d="M178.64 298.01A186.43 186.43 0 0 1 202.58 249.62" fill="none" stroke="#D2D2D2" stroke-width="1.2"/>
<path d="M164.2 293.32A201.62 201.62 0 0 1 190.09 240.99" fill="none" stroke="#D2D2D2" stroke-width="1.2"/>
<path d="M149.75 288.62A216.81 216.81 0 0 1 177.59 232.35" fill="none" stroke="#D2D2D2" stroke-width="1.2"/>
<path d="M135.69 284.05A231.6 231.6 0 0 1 165.43 223.94" fill="none" stroke="#D2D2D2" stroke-width="1.2"/>
<path d="M188.74 301.29A175.82 175.82 0 0 1 211.31 255.66L277.55 301.44A95.3 95.3 0 0 0 265.31 326.17Z" fill="#914177"/>
<path d="M43.01 254.72A328.8 328.8 0 0 1 85.89 168.06L103.88 180.56A306.9 306.9 0 0 0 63.86 261.45Z" fill="#914177"/>
<path d="M43.53 254.11L35.63 251.54" stroke="#111" stroke-width="1.25"/>
<text class="ax" text-anchor="end" transform="translate(31.54 250.21) rotate(18)">1</text>
<path d="M54.81 224.37L47.2 221.05" stroke="#111" stroke-width="1.25"/>
<text class="ax" text-anchor="end" transform="translate(43.26 219.33) rotate(23.55)">10</text>
<path d="M68.92 195.86L61.66 191.82" stroke="#111" stroke-width="1.25"/>
<text class="ax" text-anchor="end" transform="translate(57.91 189.73) rotate(29.1)">100</text>
<text class="nm" transform="translate(71.06 214.67) rotate(-63.68)">ko04070</text>
<path d="M77.86 265.26A292.4 292.4 0 0 1 99.35 215.42L110.23 221.37A280 280 0 0 0 89.65 269.1Z" fill="#CB181D"/>
<text class="nu" transform="translate(93.14 242.3) rotate(-66.67)">83</text>
<path d="M102.21 273.17A266.8 266.8 0 0 1 118.49 233.99L129.52 239.65A254.4 254.4 0 0 0 114 277.01Z" fill="#6A1260"/>
<text class="nu" transform="translate(115.29 255.64) rotate(-67.44)" style="fill:#fff;stroke:#fff;stroke-width:0.1px">44</text>
<path d="M168.26 219.25A232 232 0 0 1 215.2 171.19L298.13 279.86A95.3 95.3 0 0 0 278.85 299.6Z" fill="#F0F0F0"/>
<path d="M266.56 290.68A110.49 110.49 0 0 1 288.92 267.79" fill="none" stroke="#D2D2D2" stroke-width="1.2"/>
<path d="M254.27 281.75A125.68 125.68 0 0 1 279.7 255.71" fill="none" stroke="#D2D2D2" stroke-width="1.2"/>
<path d="M241.99 272.82A140.87 140.87 0 0 1 270.49 243.64" fill="none" stroke="#D2D2D2" stroke-width="1.2"/>
<path d="M229.7 263.89A156.06 156.06 0 0 1 261.27 231.56" fill="none" stroke="#D2D2D2" stroke-width="1.2"/>
<path d="M217.41 254.97A171.24 171.24 0 0 1 252.06 219.49" fill="none" stroke="#D2D2D2" stroke-width="1.2"/>
<path d="M205.12 246.04A186.43 186.43 0 0 1 242.84 207.42" fill="none" stroke="#D2D2D2" stroke-width="1.2"/>
<path d="M192.83 237.11A201.62 201.62 0 0 1 233.63 195.34" fill="none" stroke="#D2D2D2" stroke-width="1.2"/>
<path d="M180.55 228.18A216.81 216.81 0 0 1 224.41 183.27" fill="none" stroke="#D2D2D2" stroke-width="1.2"/>
<path d="M168.58 219.49A231.6 231.6 0 0 1 215.44 171.51" fill="none" stroke="#D2D2D2" stroke-width="1.2"/>
<path d="M215.35 253.47A173.79 173.79 0 0 1 250.52 217.47L298.13 279.86A95.3 95.3 0 0 0 278.85 299.6Z" fill="#914177"/>
<path d="M89.51 162.96A328.8 328.8 0 0 1 157.07 93.79L170.31 111.23A306.9 306.9 0 0 0 107.25 175.79Z" fill="#914177"/>
<path d="M90.19 162.53L83.47 157.65" stroke="#111" stroke-width="1.25"/>
<text class="ax" text-anchor="end" transform="translate(79.99 155.13) rotate(36)">1</text>
<path d="M110.11 137.73L103.9 132.23" stroke="#111" stroke-width="1.25"/>
<text class="ax" text-anchor="end" transform="translate(100.68 129.38) rotate(41.55)">10</text>
<path d="M132.33 114.98L126.68 108.9" stroke="#111" stroke-width="1.25"/>
<text class="ax" text-anchor="end" transform="translate(123.76 105.75) rotate(47.1)">100</text>
<text class="nm" transform="translate(128.56 133.53) rotate(-45.68)">ko04016</text>
<path d="M119.39 183.75A292.4 292.4 0 0 1 163.64 135.36L171.8 144.7A280 280 0 0 0 129.43 191.04Z" fill="#99000D"/>
<text class="nu" transform="translate(144.73 162.49) rotate(-47.56)">209</text>
<path d="M140.1 198.8A266.8 266.8 0 0 1 174.97 159.59L183.38 168.7A254.4 254.4 0 0 0 150.14 206.09Z" fill="#6A1260"/>
<text class="nu" transform="translate(161.2 182.46) rotate(-48.36)" style="fill:#fff;stroke:#fff;stroke-width:0.1px">108</text>
<path d="M219.58 167.93A232 232 0 0 1 279.08 136.73L324.37 265.7A95.3 95.3 0 0 0 299.93 278.52Z" fill="#F0F0F0"/>
<path d="M291.01 266.23A110.49 110.49 0 0 1 319.34 251.37" fill="none" stroke="#D2D2D2" stroke-width="1.2"/>
<path d="M282.08 253.94A125.68 125.68 0 0 1 314.31 237.04" fill="none" stroke="#D2D2D2" stroke-width="1.2"/>
<path d="M273.15 241.66A140.87 140.87 0 0 1 309.28 222.71" fill="none" stroke="#D2D2D2" stroke-width="1.2"/>
<path d="M264.22 229.37A156.06 156.06 0 0 1 304.24 208.38" fill="none" stroke="#D2D2D2" stroke-width="1.2"/>
<path d="M255.3 217.08A171.24 171.24 0 0 1 299.21 194.05" fill="none" stroke="#D2D2D2" stroke-width="1.2"/>
<path d="M246.37 204.79A186.43 186.43 0 0 1 294.18 179.72" fill="none" stroke="#D2D2D2" stroke-width="1.2"/>
<path d="M237.44 192.5A201.62 201.62 0 0 1 289.14 165.39" fill="none" stroke="#D2D2D2" stroke-width="1.2"/>
<path d="M228.51 180.22A216.81 216.81 0 0 1 284.11 151.06" fill="none" stroke="#D2D2D2" stroke-width="1.2"/>
<path d="M219.82 168.25A231.6 231.6 0 0 1 279.21 137.1" fill="none" stroke="#D2D2D2" stroke-width="1.2"/>
<path d="M246.37 204.79A186.43 186.43 0 0 1 294.18 179.72L324.37 265.7A95.3 95.3 0 0 0 299.93 278.52Z" fill="#0392DB"/>
<path d="M162.08 90.05A328.8 328.8 0 0 1 247.71 45.15L254.92 65.83A306.9 306.9 0 0 0 175 107.74Z" fill="#0392DB"/>
<path d="M162.86 89.86L157.98 83.14" stroke="#111" stroke-width="1.25"/>
<text class="ax" text-anchor="end" transform="translate(155.46 79.66) rotate(54)">1</text>
<path d="M189.47 72.43L185.26 65.27" stroke="#111" stroke-width="1.25"/>
<text class="ax" text-anchor="end" transform="translate(183.09 61.57) rotate(59.55)">10</text>
<path d="M217.64 57.66L214.15 50.13" stroke="#111" stroke-width="1.25"/>
<text class="ax" text-anchor="end" transform="translate(212.33 46.23) rotate(65.1)">100</text>
<text class="nm" transform="translate(208.32 74.13) rotate(-27.67)">ko04712</text>
<path d="M184.08 119.06A292.4 292.4 0 0 1 225.16 94.1L230.71 105.19A280 280 0 0 0 191.37 129.1Z" fill="#CB181D"/>
<text class="nu" transform="translate(207.33 111.04) rotate(-31.29)">50</text>
<path d="M199.13 139.77A266.8 266.8 0 0 1 231.51 119.62L237.29 130.59A254.4 254.4 0 0 0 206.42 149.81Z" fill="#6A1260"/>
<text class="nu" transform="translate(218.24 134.38) rotate(-31.9)" style="fill:#fff;stroke:#fff;stroke-width:0.1px">30</text>
<path d="M284.26 134.97A232 232 0 0 1 350.48 123.68L353.7 260.35A95.3 95.3 0 0 0 326.5 264.98Z" fill="#F0F0F0"/>
<path d="M321.81 250.54A110.49 110.49 0 0 1 353.35 245.16" fill="none" stroke="#D2D2D2" stroke-width="1.2"/>
<path d="M317.11 236.09A125.68 125.68 0 0 1 352.99 229.98" fill="none" stroke="#D2D2D2" stroke-width="1.2"/>
<path d="M312.42 221.65A140.87 140.87 0 0 1 352.63 214.79" fill="none" stroke="#D2D2D2" stroke-width="1.2"/>
<path d="M307.73 207.2A156.06 156.06 0 0 1 352.27 199.61" fill="none" stroke="#D2D2D2" stroke-width="1.2"/>
<path d="M303.03 192.76A171.24 171.24 0 0 1 351.92 184.42" fill="none" stroke="#D2D2D2" stroke-width="1.2"/>
<path d="M298.34 178.31A186.43 186.43 0 0 1 351.56 169.24" fill="none" stroke="#D2D2D2" stroke-width="1.2"/>
<path d="M293.65 163.87A201.62 201.62 0 0 1 351.2 154.05" fill="none" stroke="#D2D2D2" stroke-width="1.2"/>
<path d="M288.95 149.42A216.81 216.81 0 0 1 350.84 138.87" fill="none" stroke="#D2D2D2" stroke-width="1.2"/>
<path d="M284.38 135.36A231.6 231.6 0 0 1 350.49 124.08" fill="none" stroke="#D2D2D2" stroke-width="1.2"/>
<path d="M306.45 203.29A160.17 160.17 0 0 1 352.18 195.5L353.7 260.35A95.3 95.3 0 0 0 326.5 264.98Z" fill="#0392DB"/>
<path d="M253.64 43.14A328.8 328.8 0 0 1 348.95 26.89L349.42 48.79A306.9 306.9 0 0 0 260.45 63.96Z" fill="#0392DB"/>
<path d="M254.44 43.2L251.87 35.3" stroke="#111" stroke-width="1.25"/>
<text class="ax" text-anchor="end" transform="translate(250.54 31.21) rotate(72)">1</text>
<path d="M285.13 34.84L283.34 26.74" stroke="#111" stroke-width="1.25"/>
<text class="ax" text-anchor="end" transform="translate(282.41 22.54) rotate(77.55)">10</text>
<path d="M316.49 29.5L315.49 21.26" stroke="#111" stroke-width="1.25"/>
<text class="ax" text-anchor="end" transform="translate(314.97 16.99) rotate(83.1)">100</text>
<text class="nm" transform="translate(302.53 42.29) rotate(-9.67)">ko04626</text>
<path d="M265.59 77.53A292.4 292.4 0 0 1 333.77 64.06L334.71 76.43A280 280 0 0 0 269.43 89.32Z" fill="#99000D"/>
<text class="nu" transform="translate(300.48 74.85) rotate(-11.18)">288</text>
<path d="M273.5 101.88A266.8 266.8 0 0 1 326.21 90.48L327.59 102.81A254.4 254.4 0 0 0 277.34 113.67Z" fill="#6A1260"/>
<text class="nu" transform="translate(300.88 100.91) rotate(-12.2)" style="fill:#fff;stroke:#fff;stroke-width:0.1px">123</text>
</g>
<rect x="285.3" y="323.8" width="40" height="13.1" fill="#9E9E9E"/>
<text class="nu" x="305.3" y="330.8">100</text>
<text class="lg" x="330.85" y="334.8">Number of Gene</text>
<rect x="285.3" y="349.1" width="40" height="13.1" fill="#6A1260"/>
<text class="nu" style="fill:#fff;stroke:#fff" x="305.3" y="356.1">10</text>
<text class="lg" x="330.85" y="360.3">Number of DEGs</text>
<path d="M285.3 375.9L325.1 371L325.1 391L285.3 386.4Z" fill="#9E9E9E"/>
<text class="lg" x="330.85" y="385.8">Rich Factor(0~1)</text>
<text class="ab" x="352.7" y="430.7">A</text>
<g clip-path="url(#clipA)">
<rect x="748.9" y="223.4" width="19" height="19" fill="#F7CA18"/>
<text class="lg" x="773.5" y="237.65">Metabolism</text>
<rect x="748.9" y="248.7" width="19" height="19" fill="#F9388C"/>
<text class="lg" x="773.5" y="262.95">Genetic Information Processing</text>
<rect x="748.9" y="274" width="19" height="19" fill="#914177"/>
<text class="lg" x="773.5" y="288.25">Environmental Information Processing</text>
<rect x="748.9" y="299.3" width="19" height="19" fill="#0392DB"/>
<text class="lg" x="773.5" y="313.55">Organismal Systems</text>
<text class="lg" x="747.9" y="358.6">-log10(Pvalue)</text>
<circle cx="758.1" cy="377.4" r="9.5" fill="#FEE0D2"/>
<text class="l2" x="773.3" y="381.5">(0,1.3]</text>
<circle cx="758.1" cy="402.92" r="9.5" fill="#FCBBA1"/>
<text class="l2" x="773.3" y="407.02">(1.3,2]</text>
<circle cx="758.1" cy="428.44" r="9.5" fill="#FC9272"/>
<text class="l2" x="773.3" y="432.54">(2,5]</text>
<circle cx="758.1" cy="453.96" r="9.5" fill="#FB6A4A"/>
<text class="l2" x="773.3" y="458.06">(5,10]</text>
<circle cx="758.1" cy="479.48" r="9.5" fill="#EF3B2C"/>
<text class="l2" x="773.3" y="483.58">(10,15]</text>
<circle cx="758.1" cy="505" r="9.5" fill="#CB181D"/>
<text class="l2" x="773.3" y="509.1">(15,20]</text>
<circle cx="758.1" cy="530.52" r="9.5" fill="#99000D"/>
<text class="l2" x="773.3" y="534.62">&gt;=20</text>
</g>
<g transform="translate(1388 355.62) scale(1 0.9994) translate(-1388 -355.62)">
<path d="M1388 123.62A232 232 0 0 1 1454.47 133.35L1415.31 264.32A95.3 95.3 0 0 0 1388 260.32Z" fill="#F0F0F0"/>
<path d="M1388 245.13A110.49 110.49 0 0 1 1419.66 249.76" fill="none" stroke="#D2D2D2" stroke-width="1.2"/>
<path d="M1388 229.94A125.68 125.68 0 0 1 1424.01 235.21" fill="none" stroke="#D2D2D2" stroke-width="1.2"/>
<path d="M1388 214.75A140.87 140.87 0 0 1 1428.36 220.66" fill="none" stroke="#D2D2D2" stroke-width="1.2"/>
<path d="M1388 199.56A156.06 156.06 0 0 1 1432.71 206.11" fill="none" stroke="#D2D2D2" stroke-width="1.2"/>
<path d="M1388 184.38A171.24 171.24 0 0 1 1437.07 191.56" fill="none" stroke="#D2D2D2" stroke-width="1.2"/>
<path d="M1388 169.19A186.43 186.43 0 0 1 1441.42 177" fill="none" stroke="#D2D2D2" stroke-width="1.2"/>
<path d="M1388 154A201.62 201.62 0 0 1 1445.77 162.45" fill="none" stroke="#D2D2D2" stroke-width="1.2"/>
<path d="M1388 138.81A216.81 216.81 0 0 1 1450.12 147.9" fill="none" stroke="#D2D2D2" stroke-width="1.2"/>
<path d="M1388 124.02A231.6 231.6 0 0 1 1454.36 133.73" fill="none" stroke="#D2D2D2" stroke-width="1.2"/>
<path d="M1388 132.41A223.21 223.21 0 0 1 1451.95 141.77L1415.31 264.32A95.3 95.3 0 0 0 1388 260.32Z" fill="#F7CA18"/>
<path d="M1387.25 26.82A328.8 328.8 0 0 1 1482.92 40.82L1476.6 61.79A306.9 306.9 0 0 0 1387.3 48.72Z" fill="#F7CA18"/>
<path d="M1388 27.12L1388 18.82" stroke="#111" stroke-width="1.25"/>
<text class="ax" text-anchor="start" transform="translate(1388 14.52) rotate(-90)">1</text>
<path d="M1419.77 28.66L1420.57 20.4" stroke="#111" stroke-width="1.25"/>
<text class="ax" text-anchor="start" transform="translate(1420.99 16.12) rotate(-84.45)">10</text>
<path d="M1451.24 33.27L1452.84 25.12" stroke="#111" stroke-width="1.25"/>
<text class="ax" text-anchor="start" transform="translate(1453.67 20.9) rotate(-78.9)">100</text>
<text class="nm" transform="translate(1434.02 41.12) rotate(8.32)">ko00670</text>
<path d="M1388 63.22A292.4 292.4 0 0 1 1424.13 65.46L1422.59 77.77A280 280 0 0 0 1388 75.62Z" fill="#EF3B2C"/>
<text class="nu" transform="translate(1405.71 69.97) rotate(3.55)">19</text>
<path d="M1388 88.82A266.8 266.8 0 0 1 1419.05 90.63L1417.61 102.95A254.4 254.4 0 0 0 1388 101.22Z" fill="#6A1260"/>
<text class="nu" transform="translate(1403.19 95.46) rotate(3.34)" style="fill:#fff;stroke:#fff;stroke-width:0.1px">16</text>
<path d="M1459.69 134.97A232 232 0 0 1 1519.91 164.77L1442.18 277.22A95.3 95.3 0 0 0 1417.45 264.98Z" fill="#F0F0F0"/>
<path d="M1422.14 250.54A110.49 110.49 0 0 1 1450.82 264.73" fill="none" stroke="#D2D2D2" stroke-width="1.2"/>
<path d="M1426.84 236.09A125.68 125.68 0 0 1 1459.46 252.23" fill="none" stroke="#D2D2D2" stroke-width="1.2"/>
<path d="M1431.53 221.65A140.87 140.87 0 0 1 1468.09 239.74" fill="none" stroke="#D2D2D2" stroke-width="1.2"/>
<path d="M1436.22 207.2A156.06 156.06 0 0 1 1476.73 227.24" fill="none" stroke="#D2D2D2" stroke-width="1.2"/>
<path d="M1440.92 192.76A171.24 171.24 0 0 1 1485.36 214.75" fill="none" stroke="#D2D2D2" stroke-width="1.2"/>
<path d="M1445.61 178.31A186.43 186.43 0 0 1 1494 202.25" fill="none" stroke="#D2D2D2" stroke-width="1.2"/>
<path d="M1450.3 163.87A201.62 201.62 0 0 1 1502.63 189.76" fill="none" stroke="#D2D2D2" stroke-width="1.2"/>
<path d="M1455 149.42A216.81 216.81 0 0 1 1511.27 177.26" fill="none" stroke="#D2D2D2" stroke-width="1.2"/>
<path d="M1459.57 135.36A231.6 231.6 0 0 1 1519.68 165.1" fill="none" stroke="#D2D2D2" stroke-width="1.2"/>
<path d="M1456.56 144.61A221.87 221.87 0 0 1 1514.15 173.1L1442.18 277.22A95.3 95.3 0 0 0 1417.45 264.98Z" fill="#F7CA18"/>
<path d="M1488.9 42.68A328.8 328.8 0 0 1 1575.56 85.56L1563.06 103.55A306.9 306.9 0 0 0 1482.17 63.53Z" fill="#F7CA18"/>
<path d="M1489.51 43.2L1492.08 35.3" stroke="#111" stroke-width="1.25"/>
<text class="ax" text-anchor="start" transform="translate(1493.41 31.21) rotate(-72)">1</text>
<path d="M1519.25 54.48L1522.57 46.87" stroke="#111" stroke-width="1.25"/>
<text class="ax" text-anchor="start" transform="translate(1524.29 42.93) rotate(-66.45)">10</text>
<path d="M1547.76 68.59L1551.8 61.33" stroke="#111" stroke-width="1.25"/>
<text class="ax" text-anchor="start" transform="translate(1553.89 57.58) rotate(-60.9)">100</text>
<text class="nm" transform="translate(1528.95 70.73) rotate(26.32)">ko00511</text>
<path d="M1478.36 77.53A292.4 292.4 0 0 1 1511.42 90.54L1506.19 101.79A280 280 0 0 0 1474.52 89.32Z" fill="#EF3B2C"/>
<text class="nu" transform="translate(1492.82 89.3) rotate(21.48)">18</text>
<path d="M1470.45 101.88A266.8 266.8 0 0 1 1498.76 112.9L1493.61 124.18A254.4 254.4 0 0 0 1466.61 113.67Z" fill="#6A1260"/>
<text class="nu" transform="translate(1482.51 112.76) rotate(21.26)" style="fill:#fff;stroke:#fff;stroke-width:0.1px">15</text>
<path d="M1524.37 167.93A232 232 0 0 1 1572.43 214.87L1463.76 297.8A95.3 95.3 0 0 0 1444.02 278.52Z" fill="#F0F0F0"/>
<path d="M1452.94 266.23A110.49 110.49 0 0 1 1475.83 288.59" fill="none" stroke="#D2D2D2" stroke-width="1.2"/>
<path d="M1461.87 253.94A125.68 125.68 0 0 1 1487.91 279.37" fill="none" stroke="#D2D2D2" stroke-width="1.2"/>
<path d="M1470.8 241.66A140.87 140.87 0 0 1 1499.98 270.16" fill="none" stroke="#D2D2D2" stroke-width="1.2"/>
<path d="M1479.73 229.37A156.06 156.06 0 0 1 1512.06 260.94" fill="none" stroke="#D2D2D2" stroke-width="1.2"/>
<path d="M1488.65 217.08A171.24 171.24 0 0 1 1524.13 251.73" fill="none" stroke="#D2D2D2" stroke-width="1.2"/>
<path d="M1497.58 204.79A186.43 186.43 0 0 1 1536.2 242.51" fill="none" stroke="#D2D2D2" stroke-width="1.2"/>
<path d="M1506.51 192.5A201.62 201.62 0 0 1 1548.28 233.3" fill="none" stroke="#D2D2D2" stroke-width="1.2"/>
<path d="M1515.44 180.22A216.81 216.81 0 0 1 1560.35 224.08" fill="none" stroke="#D2D2D2" stroke-width="1.2"/>
<path d="M1524.13 168.25A231.6 231.6 0 0 1 1572.11 215.11" fill="none" stroke="#D2D2D2" stroke-width="1.2"/>
<path d="M1515.44 180.22A216.81 216.81 0 0 1 1560.35 224.08L1463.76 297.8A95.3 95.3 0 0 0 1444.02 278.52Z" fill="#F7CA18"/>
<path d="M1580.66 89.18A328.8 328.8 0 0 1 1649.83 156.74L1632.39 169.98A306.9 306.9 0 0 0 1567.83 106.92Z" fill="#F7CA18"/>
<path d="M1581.09 89.86L1585.97 83.14" stroke="#111" stroke-width="1.25"/>
<text class="ax" text-anchor="start" transform="translate(1588.49 79.66) rotate(-54)">1</text>
<path d="M1605.89 109.78L1611.39 103.57" stroke="#111" stroke-width="1.25"/>
<text class="ax" text-anchor="start" transform="translate(1614.24 100.35) rotate(-48.45)">10</text>
<path d="M1628.64 132L1634.72 126.35" stroke="#111" stroke-width="1.25"/>
<text class="ax" text-anchor="start" transform="translate(1637.87 123.43) rotate(-42.9)">100</text>
<text class="nm" transform="translate(1610.09 128.23) rotate(44.32)">ko00603</text>
<path d="M1559.87 119.06A292.4 292.4 0 0 1 1581.94 136.79L1573.72 146.07A280 280 0 0 0 1552.58 129.1Z" fill="#FB6A4A"/>
<text class="nu" transform="translate(1567.24 132.5) rotate(38.78)">10</text>
<path d="M1544.82 139.77A266.8 266.8 0 0 1 1563.08 154.3L1554.94 163.66A254.4 254.4 0 0 0 1537.53 149.81Z" fill="#6A1260"/>
<text class="nu" transform="translate(1550.25 151.69) rotate(38.51)" style="fill:#fff;stroke:#fff;stroke-width:0.1px">8</text>
<path d="M1575.69 219.25A232 232 0 0 1 1606.89 278.75L1477.92 324.04A95.3 95.3 0 0 0 1465.1 299.6Z" fill="#F0F0F0"/>
<path d="M1477.39 290.68A110.49 110.49 0 0 1 1492.25 319.01" fill="none" stroke="#D2D2D2" stroke-width="1.2"/>
<path d="M1489.68 281.75A125.68 125.68 0 0 1 1506.58 313.98" fill="none" stroke="#D2D2D2" stroke-width="1.2"/>
<path d="M1501.96 272.82A140.87 140.87 0 0 1 1520.91 308.95" fill="none" stroke="#D2D2D2" stroke-width="1.2"/>
<path d="M1514.25 263.89A156.06 156.06 0 0 1 1535.24 303.91" fill="none" stroke="#D2D2D2" stroke-width="1.2"/>
<path d="M1526.54 254.97A171.24 171.24 0 0 1 1549.57 298.88" fill="none" stroke="#D2D2D2" stroke-width="1.2"/>
<path d="M1538.83 246.04A186.43 186.43 0 0 1 1563.9 293.85" fill="none" stroke="#D2D2D2" stroke-width="1.2"/>
<path d="M1551.12 237.11A201.62 201.62 0 0 1 1578.23 288.81" fill="none" stroke="#D2D2D2" stroke-width="1.2"/>
<path d="M1563.4 228.18A216.81 216.81 0 0 1 1592.56 283.78" fill="none" stroke="#D2D2D2" stroke-width="1.2"/>
<path d="M1575.37 219.49A231.6 231.6 0 0 1 1606.52 278.88" fill="none" stroke="#D2D2D2" stroke-width="1.2"/>
<path d="M1555.92 233.62A207.57 207.57 0 0 1 1583.84 286.85L1477.92 324.04A95.3 95.3 0 0 0 1465.1 299.6Z" fill="#F7CA18"/>
<path d="M1653.57 161.75A328.8 328.8 0 0 1 1698.47 247.38L1677.79 254.59A306.9 306.9 0 0 0 1635.88 174.67Z" fill="#F7CA18"/>
<path d="M1653.76 162.53L1660.48 157.65" stroke="#111" stroke-width="1.25"/>
<text class="ax" text-anchor="start" transform="translate(1663.96 155.13) rotate(-36)">1</text>
<path d="M1671.19 189.14L1678.35 184.93" stroke="#111" stroke-width="1.25"/>
<text class="ax" text-anchor="start" transform="translate(1682.05 182.76) rotate(-30.45)">10</text>
<path d="M1685.96 217.31L1693.49 213.82" stroke="#111" stroke-width="1.25"/>
<text class="ax" text-anchor="start" transform="translate(1697.39 212) rotate(-24.9)">100</text>
<text class="nm" transform="translate(1669.49 207.99) rotate(62.32)">ko00730</text>
<path d="M1624.56 183.75A292.4 292.4 0 0 1 1645.11 216.36L1634.2 222.26A280 280 0 0 0 1614.52 191.04Z" fill="#EF3B2C"/>
<text class="nu" transform="translate(1630.12 203.02) rotate(57.78)">23</text>
<path d="M1603.85 198.8A266.8 266.8 0 0 1 1620.96 225.58L1610.13 231.62A254.4 254.4 0 0 0 1593.81 206.09Z" fill="#6A1260"/>
<text class="nu" transform="translate(1607.58 215.27) rotate(57.41)" style="fill:#fff;stroke:#fff;stroke-width:0.1px">17</text>
<path d="M1608.65 283.93A232 232 0 0 1 1619.94 350.15L1483.27 353.37A95.3 95.3 0 0 0 1478.64 326.17Z" fill="#F0F0F0"/>
<path d="M1493.08 321.48A110.49 110.49 0 0 1 1498.46 353.02" fill="none" stroke="#D2D2D2" stroke-width="1.2"/>
<path d="M1507.53 316.78A125.68 125.68 0 0 1 1513.64 352.66" fill="none" stroke="#D2D2D2" stroke-width="1.2"/>
<path d="M1521.97 312.09A140.87 140.87 0 0 1 1528.83 352.3" fill="none" stroke="#D2D2D2" stroke-width="1.2"/>
<path d="M1536.42 307.4A156.06 156.06 0 0 1 1544.01 351.94" fill="none" stroke="#D2D2D2" stroke-width="1.2"/>
<path d="M1550.86 302.7A171.24 171.24 0 0 1 1559.2 351.59" fill="none" stroke="#D2D2D2" stroke-width="1.2"/>
<path d="M1565.31 298.01A186.43 186.43 0 0 1 1574.38 351.23" fill="none" stroke="#D2D2D2" stroke-width="1.2"/>
<path d="M1579.75 293.32A201.62 201.62 0 0 1 1589.57 350.87" fill="none" stroke="#D2D2D2" stroke-width="1.2"/>
<path d="M1594.2 288.62A216.81 216.81 0 0 1 1604.75 350.51" fill="none" stroke="#D2D2D2" stroke-width="1.2"/>
<path d="M1608.26 284.05A231.6 231.6 0 0 1 1619.54 350.16" fill="none" stroke="#D2D2D2" stroke-width="1.2"/>
<path d="M1580.6 293.04A202.52 202.52 0 0 1 1590.46 350.85L1483.27 353.37A95.3 95.3 0 0 0 1478.64 326.17Z" fill="#F7CA18"/>
<path d="M1700.48 253.31A328.8 328.8 0 0 1 1716.73 348.62L1694.83 349.09A306.9 306.9 0 0 0 1679.66 260.12Z" fill="#F7CA18"/>
<path d="M1700.42 254.11L1708.32 251.54" stroke="#111" stroke-width="1.25"/>
<text class="ax" text-anchor="start" transform="translate(1712.41 250.21) rotate(-18)">1</text>
<path d="M1708.78 284.8L1716.88 283.01" stroke="#111" stroke-width="1.25"/>
<text class="ax" text-anchor="start" transform="translate(1721.08 282.08) rotate(-12.45)">10</text>
<path d="M1714.12 316.16L1722.36 315.16" stroke="#111" stroke-width="1.25"/>
<text class="ax" text-anchor="start" transform="translate(1726.63 314.64) rotate(-6.9)">100</text>
<text class="nm" transform="translate(1701.33 302.2) rotate(80.32)">ko00600</text>
<path d="M1666.09 265.26A292.4 292.4 0 0 1 1676.39 307.36L1664.16 309.41A280 280 0 0 0 1654.3 269.1Z" fill="#EF3B2C"/>
<text class="nu" transform="translate(1666 287.59) rotate(76.25)">34</text>
<path d="M1641.74 273.17A266.8 266.8 0 0 1 1650.47 307.73L1638.27 309.96A254.4 254.4 0 0 0 1629.95 277.01Z" fill="#6A1260"/>
<text class="nu" transform="translate(1640.67 291.83) rotate(75.83)" style="fill:#fff;stroke:#fff;stroke-width:0.1px">24</text>
<path d="M1620 355.62A232 232 0 0 1 1610.27 422.09L1479.3 382.93A95.3 95.3 0 0 0 1483.3 355.62Z" fill="#F0F0F0"/>
<path d="M1498.49 355.62A110.49 110.49 0 0 1 1493.86 387.28" fill="none" stroke="#D2D2D2" stroke-width="1.2"/>
<path d="M1513.68 355.62A125.68 125.68 0 0 1 1508.41 391.63" fill="none" stroke="#D2D2D2" stroke-width="1.2"/>
<path d="M1528.87 355.62A140.87 140.87 0 0 1 1522.96 395.98" fill="none" stroke="#D2D2D2" stroke-width="1.2"/>
<path d="M1544.06 355.62A156.06 156.06 0 0 1 1537.51 400.33" fill="none" stroke="#D2D2D2" stroke-width="1.2"/>
<path d="M1559.24 355.62A171.24 171.24 0 0 1 1552.06 404.69" fill="none" stroke="#D2D2D2" stroke-width="1.2"/>
<path d="M1574.43 355.62A186.43 186.43 0 0 1 1566.62 409.04" fill="none" stroke="#D2D2D2" stroke-width="1.2"/>
<path d="M1589.62 355.62A201.62 201.62 0 0 1 1581.17 413.39" fill="none" stroke="#D2D2D2" stroke-width="1.2"/>
<path d="M1604.81 355.62A216.81 216.81 0 0 1 1595.72 417.74" fill="none" stroke="#D2D2D2" stroke-width="1.2"/>
<path d="M1619.6 355.62A231.6 231.6 0 0 1 1609.89 421.98" fill="none" stroke="#D2D2D2" stroke-width="1.2"/>
<path d="M1581.44 355.62A193.44 193.44 0 0 1 1573.33 411.05L1479.3 382.93A95.3 95.3 0 0 0 1483.3 355.62Z" fill="#F7CA18"/>
<path d="M1716.8 354.87A328.8 328.8 0 0 1 1702.8 450.54L1681.83 444.22A306.9 306.9 0 0 0 1694.9 354.92Z" fill="#F7CA18"/>
<path d="M1716.5 355.62L1724.8 355.62" stroke="#111" stroke-width="1.25"/>
<text class="ax" text-anchor="start" transform="translate(1729.1 355.62) rotate(0)">1</text>
<path d="M1714.96 387.39L1723.22 388.19" stroke="#111" stroke-width="1.25"/>
<text class="ax" text-anchor="start" transform="translate(1727.5 388.61) rotate(5.55)">10</text>
<path d="M1710.35 418.86L1718.5 420.46" stroke="#111" stroke-width="1.25"/>
<text class="ax" text-anchor="start" transform="translate(1722.72 421.29) rotate(11.1)">100</text>
<text class="nm" transform="translate(1702.5 401.64) rotate(-81.68)">ko00240</text>
<path d="M1680.4 355.62A292.4 292.4 0 0 1 1675.9 406.7L1663.69 404.54A280 280 0 0 0 1668 355.62Z" fill="#99000D"/>
<text class="nu" transform="translate(1673.1 380.72) rotate(-84.97)">65</text>
<path d="M1654.8 355.62A266.8 266.8 0 0 1 1651.51 397.4L1639.26 395.46A254.4 254.4 0 0 0 1642.4 355.62Z" fill="#6A1260"/>
<text class="nu" transform="translate(1647.8 376.09) rotate(-85.5)" style="fill:#fff;stroke:#fff;stroke-width:0.1px">42</text>
<path d="M1608.65 427.31A232 232 0 0 1 1578.85 487.53L1466.4 409.8A95.3 95.3 0 0 0 1478.64 385.07Z" fill="#F0F0F0"/>
<path d="M1493.08 389.76A110.49 110.49 0 0 1 1478.89 418.44" fill="none" stroke="#D2D2D2" stroke-width="1.2"/>
<path d="M1507.53 394.46A125.68 125.68 0 0 1 1491.39 427.08" fill="none" stroke="#D2D2D2" stroke-width="1.2"/>
<path d="M1521.97 399.15A140.87 140.87 0 0 1 1503.88 435.71" fill="none" stroke="#D2D2D2" stroke-width="1.2"/>
<path d="M1536.42 403.84A156.06 156.06 0 0 1 1516.38 444.35" fill="none" stroke="#D2D2D2" stroke-width="1.2"/>
<path d="M1550.86 408.54A171.24 171.24 0 0 1 1528.87 452.98" fill="none" stroke="#D2D2D2" stroke-width="1.2"/>
<path d="M1565.31 413.23A186.43 186.43 0 0 1 1541.37 461.62" fill="none" stroke="#D2D2D2" stroke-width="1.2"/>
<path d="M1579.75 417.92A201.62 201.62 0 0 1 1553.86 470.25" fill="none" stroke="#D2D2D2" stroke-width="1.2"/>
<path d="M1594.2 422.62A216.81 216.81 0 0 1 1566.36 478.89" fill="none" stroke="#D2D2D2" stroke-width="1.2"/>
<path d="M1608.26 427.19A231.6 231.6 0 0 1 1578.52 487.3" fill="none" stroke="#D2D2D2" stroke-width="1.2"/>
<path d="M1571.79 415.34A193.25 193.25 0 0 1 1546.97 465.49L1466.4 409.8A95.3 95.3 0 0 0 1478.64 385.07Z" fill="#F7CA18"/>
<path d="M1700.94 456.52A328.8 328.8 0 0 1 1658.06 543.18L1640.07 530.68A306.9 306.9 0 0 0 1680.09 449.79Z" fill="#F7CA18"/>
<path d="M1700.42 457.13L1708.32 459.7" stroke="#111" stroke-width="1.25"/>
<text class="ax" text-anchor="start" transform="translate(1712.41 461.03) rotate(18)">1</text>
<path d="M1689.14 486.87L1696.75 490.19" stroke="#111" stroke-width="1.25"/>
<text class="ax" text-anchor="start" transform="translate(1700.69 491.91) rotate(23.55)">10</text>
<path d="M1675.03 515.38L1682.29 519.42" stroke="#111" stroke-width="1.25"/>
<text class="ax" text-anchor="start" transform="translate(1686.04 521.51) rotate(29.1)">100</text>
<text class="nm" transform="translate(1672.89 496.57) rotate(-63.68)">ko00230</text>
<path d="M1666.09 445.98A292.4 292.4 0 0 1 1643.09 498.55L1632.27 492.49A280 280 0 0 0 1654.3 442.14Z" fill="#99000D"/>
<text class="nu" transform="translate(1650.2 470.34) rotate(-66.37)">107</text>
<path d="M1641.74 438.07A266.8 266.8 0 0 1 1623.12 481.72L1612.19 475.86A254.4 254.4 0 0 0 1629.95 434.23Z" fill="#6A1260"/>
<text class="nu" transform="translate(1627.7 457.87) rotate(-66.9)" style="fill:#fff;stroke:#fff;stroke-width:0.1px">69</text>
<path d="M1575.69 491.99A232 232 0 0 1 1528.75 540.05L1445.82 431.38A95.3 95.3 0 0 0 1465.1 411.64Z" fill="#F0F0F0"/>
<path d="M1477.39 420.56A110.49 110.49 0 0 1 1455.03 443.45" fill="none" stroke="#D2D2D2" stroke-width="1.2"/>
<path d="M1489.68 429.49A125.68 125.68 0 0 1 1464.25 455.53" fill="none" stroke="#D2D2D2" stroke-width="1.2"/>
<path d="M1501.96 438.42A140.87 140.87 0 0 1 1473.46 467.6" fill="none" stroke="#D2D2D2" stroke-width="1.2"/>
<path d="M1514.25 447.35A156.06 156.06 0 0 1 1482.68 479.68" fill="none" stroke="#D2D2D2" stroke-width="1.2"/>
<path d="M1526.54 456.27A171.24 171.24 0 0 1 1491.89 491.75" fill="none" stroke="#D2D2D2" stroke-width="1.2"/>
<path d="M1538.83 465.2A186.43 186.43 0 0 1 1501.11 503.82" fill="none" stroke="#D2D2D2" stroke-width="1.2"/>
<path d="M1551.12 474.13A201.62 201.62 0 0 1 1510.32 515.9" fill="none" stroke="#D2D2D2" stroke-width="1.2"/>
<path d="M1563.4 483.06A216.81 216.81 0 0 1 1519.54 527.97" fill="none" stroke="#D2D2D2" stroke-width="1.2"/>
<path d="M1575.37 491.75A231.6 231.6 0 0 1 1528.51 539.73" fill="none" stroke="#D2D2D2" stroke-width="1.2"/>
<path d="M1538.24 464.78A185.71 185.71 0 0 1 1500.67 503.25L1445.82 431.38A95.3 95.3 0 0 0 1465.1 411.64Z" fill="#F7CA18"/>
<path d="M1654.44 548.28A328.8 328.8 0 0 1 1586.88 617.45L1573.64 600.01A306.9 306.9 0 0 0 1636.7 535.45Z" fill="#F7CA18"/>
<path d="M1653.76 548.71L1660.48 553.59" stroke="#111" stroke-width="1.25"/>
<text class="ax" text-anchor="start" transform="translate(1663.96 556.11) rotate(36)">1</text>
<path d="M1633.84 573.51L1640.05 579.01" stroke="#111" stroke-width="1.25"/>
<text class="ax" text-anchor="start" transform="translate(1643.27 581.86) rotate(41.55)">10</text>
<path d="M1611.62 596.26L1617.27 602.34" stroke="#111" stroke-width="1.25"/>
<text class="ax" text-anchor="start" transform="translate(1620.19 605.49) rotate(47.1)">100</text>
<text class="nm" transform="translate(1615.39 577.71) rotate(-45.68)">ko00260</text>
<path d="M1624.56 527.49A292.4 292.4 0 0 1 1588.61 568.35L1580.1 559.33A280 280 0 0 0 1614.52 520.2Z" fill="#99000D"/>
<text class="nu" transform="translate(1602.88 544.66) rotate(-48.66)">84</text>
<path d="M1603.85 512.44A266.8 266.8 0 0 1 1575.24 545.68L1566.54 536.85A254.4 254.4 0 0 0 1593.81 505.15Z" fill="#6A1260"/>
<text class="nu" transform="translate(1585.53 525.61) rotate(-49.29)" style="fill:#fff;stroke:#fff;stroke-width:0.1px">50</text>
<path d="M1524.37 543.31A232 232 0 0 1 1464.87 574.51L1419.58 445.54A95.3 95.3 0 0 0 1444.02 432.72Z" fill="#F0F0F0"/>
<path d="M1452.94 445.01A110.49 110.49 0 0 1 1424.61 459.87" fill="none" stroke="#D2D2D2" stroke-width="1.2"/>
<path d="M1461.87 457.3A125.68 125.68 0 0 1 1429.64 474.2" fill="none" stroke="#D2D2D2" stroke-width="1.2"/>
<path d="M1470.8 469.58A140.87 140.87 0 0 1 1434.67 488.53" fill="none" stroke="#D2D2D2" stroke-width="1.2"/>
<path d="M1479.73 481.87A156.06 156.06 0 0 1 1439.71 502.86" fill="none" stroke="#D2D2D2" stroke-width="1.2"/>
<path d="M1488.65 494.16A171.24 171.24 0 0 1 1444.74 517.19" fill="none" stroke="#D2D2D2" stroke-width="1.2"/>
<path d="M1497.58 506.45A186.43 186.43 0 0 1 1449.77 531.52" fill="none" stroke="#D2D2D2" stroke-width="1.2"/>
<path d="M1506.51 518.74A201.62 201.62 0 0 1 1454.81 545.85" fill="none" stroke="#D2D2D2" stroke-width="1.2"/>
<path d="M1515.44 531.02A216.81 216.81 0 0 1 1459.84 560.18" fill="none" stroke="#D2D2D2" stroke-width="1.2"/>
<path d="M1524.13 542.99A231.6 231.6 0 0 1 1464.74 574.14" fill="none" stroke="#D2D2D2" stroke-width="1.2"/>
<path d="M1490.01 496.02A173.55 173.55 0 0 1 1445.5 519.36L1419.58 445.54A95.3 95.3 0 0 0 1444.02 432.72Z" fill="#F7CA18"/>
<path d="M1581.87 621.19A328.8 328.8 0 0 1 1496.24 666.09L1489.03 645.41A306.9 306.9 0 0 0 1568.95 603.5Z" fill="#F7CA18"/>
<path d="M1581.09 621.38L1585.97 628.1" stroke="#111" stroke-width="1.25"/>
<text class="ax" text-anchor="start" transform="translate(1588.49 631.58) rotate(54)">1</text>
<path d="M1554.48 638.81L1558.69 645.97" stroke="#111" stroke-width="1.25"/>
<text class="ax" text-anchor="start" transform="translate(1560.86 649.67) rotate(59.55)">10</text>
<path d="M1526.31 653.58L1529.8 661.11" stroke="#111" stroke-width="1.25"/>
<text class="ax" text-anchor="start" transform="translate(1531.62 665.01) rotate(65.1)">100</text>
<text class="nm" transform="translate(1535.63 637.11) rotate(-27.67)">ko00565</text>
<path d="M1559.87 592.18A292.4 292.4 0 0 1 1523.34 614.81L1517.6 603.82A280 280 0 0 0 1552.58 582.14Z" fill="#FB6A4A"/>
<text class="nu" transform="translate(1538.76 598.9) rotate(-31.79)">33</text>
<path d="M1544.82 571.47A266.8 266.8 0 0 1 1518.04 588.58L1512 577.75A254.4 254.4 0 0 0 1537.53 561.43Z" fill="#6A1260"/>
<text class="nu" transform="translate(1528.35 575.2) rotate(-32.59)" style="fill:#fff;stroke:#fff;stroke-width:0.1px">17</text>
<path d="M1459.69 576.27A232 232 0 0 1 1393.47 587.56L1390.25 450.89A95.3 95.3 0 0 0 1417.45 446.26Z" fill="#F0F0F0"/>
<path d="M1422.14 460.7A110.49 110.49 0 0 1 1390.6 466.08" fill="none" stroke="#D2D2D2" stroke-width="1.2"/>
<path d="M1426.84 475.15A125.68 125.68 0 0 1 1390.96 481.26" fill="none" stroke="#D2D2D2" stroke-width="1.2"/>
<path d="M1431.53 489.59A140.87 140.87 0 0 1 1391.32 496.45" fill="none" stroke="#D2D2D2" stroke-width="1.2"/>
<path d="M1436.22 504.04A156.06 156.06 0 0 1 1391.68 511.63" fill="none" stroke="#D2D2D2" stroke-width="1.2"/>
<path d="M1440.92 518.48A171.24 171.24 0 0 1 1392.03 526.82" fill="none" stroke="#D2D2D2" stroke-width="1.2"/>
<path d="M1445.61 532.93A186.43 186.43 0 0 1 1392.39 542" fill="none" stroke="#D2D2D2" stroke-width="1.2"/>
<path d="M1450.3 547.37A201.62 201.62 0 0 1 1392.75 557.19" fill="none" stroke="#D2D2D2" stroke-width="1.2"/>
<path d="M1455 561.82A216.81 216.81 0 0 1 1393.11 572.37" fill="none" stroke="#D2D2D2" stroke-width="1.2"/>
<path d="M1459.57 575.88A231.6 231.6 0 0 1 1393.46 587.16" fill="none" stroke="#D2D2D2" stroke-width="1.2"/>
<path d="M1440.44 517.01A169.69 169.69 0 0 1 1392 525.27L1390.25 450.89A95.3 95.3 0 0 0 1417.45 446.26Z" fill="#F7CA18"/>
<path d="M1490.31 668.1A328.8 328.8 0 0 1 1395 684.35L1394.53 662.45A306.9 306.9 0 0 0 1483.5 647.28Z" fill="#F7CA18"/>
<path d="M1489.51 668.04L1492.08 675.94" stroke="#111" stroke-width="1.25"/>
<text class="ax" text-anchor="start" transform="translate(1493.41 680.03) rotate(72)">1</text>
<path d="M1458.82 676.4L1460.61 684.5" stroke="#111" stroke-width="1.25"/>
<text class="ax" text-anchor="start" transform="translate(1461.54 688.7) rotate(77.55)">10</text>
<path d="M1427.46 681.74L1428.46 689.98" stroke="#111" stroke-width="1.25"/>
<text class="ax" text-anchor="start" transform="translate(1428.98 694.25) rotate(83.1)">100</text>
<text class="nm" transform="translate(1441.42 668.95) rotate(-9.67)">ko00410</text>
<path d="M1478.36 633.71A292.4 292.4 0 0 1 1431.82 644.72L1429.96 632.46A280 280 0 0 0 1474.52 621.92Z" fill="#FB6A4A"/>
<text class="nu" transform="translate(1453.89 634.13) rotate(-13.31)">49</text>
<path d="M1470.45 609.36A266.8 266.8 0 0 1 1435.89 618.09L1433.66 605.89A254.4 254.4 0 0 0 1466.61 597.57Z" fill="#6A1260"/>
<text class="nu" transform="translate(1451.79 608.29) rotate(-14.17)" style="fill:#fff;stroke:#fff;stroke-width:0.1px">24</text>
<path d="M1388 587.62A232 232 0 0 1 1321.53 577.89L1360.69 446.92A95.3 95.3 0 0 0 1388 450.92Z" fill="#F0F0F0"/>
<path d="M1388 466.11A110.49 110.49 0 0 1 1356.34 461.48" fill="none" stroke="#D2D2D2" stroke-width="1.2"/>
<path d="M1388 481.3A125.68 125.68 0 0 1 1351.99 476.03" fill="none" stroke="#D2D2D2" stroke-width="1.2"/>
<path d="M1388 496.49A140.87 140.87 0 0 1 1347.64 490.58" fill="none" stroke="#D2D2D2" stroke-width="1.2"/>
<path d="M1388 511.68A156.06 156.06 0 0 1 1343.29 505.13" fill="none" stroke="#D2D2D2" stroke-width="1.2"/>
<path d="M1388 526.86A171.24 171.24 0 0 1 1338.93 519.68" fill="none" stroke="#D2D2D2" stroke-width="1.2"/>
<path d="M1388 542.05A186.43 186.43 0 0 1 1334.58 534.24" fill="none" stroke="#D2D2D2" stroke-width="1.2"/>
<path d="M1388 557.24A201.62 201.62 0 0 1 1330.23 548.79" fill="none" stroke="#D2D2D2" stroke-width="1.2"/>
<path d="M1388 572.43A216.81 216.81 0 0 1 1325.88 563.34" fill="none" stroke="#D2D2D2" stroke-width="1.2"/>
<path d="M1388 587.22A231.6 231.6 0 0 1 1321.64 577.51" fill="none" stroke="#D2D2D2" stroke-width="1.2"/>
<path d="M1388 513.7A158.08 158.08 0 0 1 1342.71 507.07L1360.69 446.92A95.3 95.3 0 0 0 1388 450.92Z" fill="#F7CA18"/>
<path d="M1388.75 684.42A328.8 328.8 0 0 1 1293.08 670.42L1299.4 649.45A306.9 306.9 0 0 0 1388.7 662.52Z" fill="#F7CA18"/>
<path d="M1388 684.12L1388 692.42" stroke="#111" stroke-width="1.25"/>
<text class="ax" text-anchor="start" transform="translate(1388 696.72) rotate(90)">1</text>
<path d="M1356.23 682.58L1355.43 690.84" stroke="#111" stroke-width="1.25"/>
<text class="ax" text-anchor="end" transform="translate(1355.01 695.12) rotate(-84.45)">10</text>
<path d="M1324.76 677.97L1323.16 686.12" stroke="#111" stroke-width="1.25"/>
<text class="ax" text-anchor="end" transform="translate(1322.33 690.34) rotate(-78.9)">100</text>
<text class="nm" transform="translate(1341.98 670.12) rotate(8.33)">ko00562</text>
<path d="M1388 648.02A292.4 292.4 0 0 1 1335.18 643.21L1337.42 631.01A280 280 0 0 0 1388 635.62Z" fill="#FB6A4A"/>
<text class="nu" transform="translate(1362.04 640.64) rotate(5.2)">75</text>
<path d="M1388 622.42A266.8 266.8 0 0 1 1349.59 619.64L1351.38 607.37A254.4 254.4 0 0 0 1388 610.02Z" fill="#6A1260"/>
<text class="nu" transform="translate(1369.19 615.54) rotate(4.14)" style="fill:#fff;stroke:#fff;stroke-width:0.1px">31</text>
<path d="M1316.31 576.27A232 232 0 0 1 1256.09 546.47L1333.82 434.02A95.3 95.3 0 0 0 1358.55 446.26Z" fill="#F0F0F0"/>
<path d="M1353.86 460.7A110.49 110.49 0 0 1 1325.18 446.51" fill="none" stroke="#D2D2D2" stroke-width="1.2"/>
<path d="M1349.16 475.15A125.68 125.68 0 0 1 1316.54 459.01" fill="none" stroke="#D2D2D2" stroke-width="1.2"/>
<path d="M1344.47 489.59A140.87 140.87 0 0 1 1307.91 471.5" fill="none" stroke="#D2D2D2" stroke-width="1.2"/>
<path d="M1339.78 504.04A156.06 156.06 0 0 1 1299.27 484" fill="none" stroke="#D2D2D2" stroke-width="1.2"/>
<path d="M1335.08 518.48A171.24 171.24 0 0 1 1290.64 496.49" fill="none" stroke="#D2D2D2" stroke-width="1.2"/>
<path d="M1330.39 532.93A186.43 186.43 0 0 1 1282 508.99" fill="none" stroke="#D2D2D2" stroke-width="1.2"/>
<path d="M1325.7 547.37A201.62 201.62 0 0 1 1273.37 521.48" fill="none" stroke="#D2D2D2" stroke-width="1.2"/>
<path d="M1321 561.82A216.81 216.81 0 0 1 1264.73 533.98" fill="none" stroke="#D2D2D2" stroke-width="1.2"/>
<path d="M1316.43 575.88A231.6 231.6 0 0 1 1256.32 546.14" fill="none" stroke="#D2D2D2" stroke-width="1.2"/>
<path d="M1329.22 536.54A190.23 190.23 0 0 1 1279.84 512.11L1333.82 434.02A95.3 95.3 0 0 0 1358.55 446.26Z" fill="#F9388C"/>
<path d="M1287.1 668.56A328.8 328.8 0 0 1 1200.44 625.68L1212.94 607.69A306.9 306.9 0 0 0 1293.83 647.71Z" fill="#F9388C"/>
<path d="M1286.49 668.04L1283.92 675.94" stroke="#111" stroke-width="1.25"/>
<text class="ax" text-anchor="end" transform="translate(1282.59 680.03) rotate(-72)">1</text>
<path d="M1256.75 656.76L1253.43 664.37" stroke="#111" stroke-width="1.25"/>
<text class="ax" text-anchor="end" transform="translate(1251.71 668.31) rotate(-66.45)">10</text>
<path d="M1228.24 642.65L1224.2 649.91" stroke="#111" stroke-width="1.25"/>
<text class="ax" text-anchor="end" transform="translate(1222.11 653.66) rotate(-60.9)">100</text>
<text class="nm" transform="translate(1247.05 640.51) rotate(26.33)">ko03008</text>
<path d="M1297.64 633.71A292.4 292.4 0 0 1 1246.23 611.35L1252.25 600.51A280 280 0 0 0 1301.48 621.92Z" fill="#99000D"/>
<text class="nu" transform="translate(1273.87 618.08) rotate(23.5)">96</text>
<path d="M1305.55 609.36A266.8 266.8 0 0 1 1263.28 591.48L1269.08 580.51A254.4 254.4 0 0 0 1309.39 597.57Z" fill="#6A1260"/>
<text class="nu" transform="translate(1286.45 595.62) rotate(22.93)" style="fill:#fff;stroke:#fff;stroke-width:0.1px">60</text>
<path d="M1251.63 543.31A232 232 0 0 1 1203.57 496.37L1312.24 413.44A95.3 95.3 0 0 0 1331.98 432.72Z" fill="#F0F0F0"/>
<path d="M1323.06 445.01A110.49 110.49 0 0 1 1300.17 422.65" fill="none" stroke="#D2D2D2" stroke-width="1.2"/>
<path d="M1314.13 457.3A125.68 125.68 0 0 1 1288.09 431.87" fill="none" stroke="#D2D2D2" stroke-width="1.2"/>
<path d="M1305.2 469.58A140.87 140.87 0 0 1 1276.02 441.08" fill="none" stroke="#D2D2D2" stroke-width="1.2"/>
<path d="M1296.27 481.87A156.06 156.06 0 0 1 1263.94 450.3" fill="none" stroke="#D2D2D2" stroke-width="1.2"/>
<path d="M1287.35 494.16A171.24 171.24 0 0 1 1251.87 459.51" fill="none" stroke="#D2D2D2" stroke-width="1.2"/>
<path d="M1278.42 506.45A186.43 186.43 0 0 1 1239.8 468.73" fill="none" stroke="#D2D2D2" stroke-width="1.2"/>
<path d="M1269.49 518.74A201.62 201.62 0 0 1 1227.72 477.94" fill="none" stroke="#D2D2D2" stroke-width="1.2"/>
<path d="M1260.56 531.02A216.81 216.81 0 0 1 1215.65 487.16" fill="none" stroke="#D2D2D2" stroke-width="1.2"/>
<path d="M1251.87 542.99A231.6 231.6 0 0 1 1203.89 496.13" fill="none" stroke="#D2D2D2" stroke-width="1.2"/>
<path d="M1279.47 505A184.65 184.65 0 0 1 1241.22 467.64L1312.24 413.44A95.3 95.3 0 0 0 1331.98 432.72Z" fill="#F9388C"/>
<path d="M1195.34 622.06A328.8 328.8 0 0 1 1126.17 554.5L1143.61 541.26A306.9 306.9 0 0 0 1208.17 604.32Z" fill="#F9388C"/>
<path d="M1194.91 621.38L1190.03 628.1" stroke="#111" stroke-width="1.25"/>
<text class="ax" text-anchor="end" transform="translate(1187.51 631.58) rotate(-54)">1</text>
<path d="M1170.11 601.46L1164.61 607.67" stroke="#111" stroke-width="1.25"/>
<text class="ax" text-anchor="end" transform="translate(1161.76 610.89) rotate(-48.45)">10</text>
<path d="M1147.36 579.24L1141.28 584.89" stroke="#111" stroke-width="1.25"/>
<text class="ax" text-anchor="end" transform="translate(1138.13 587.81) rotate(-42.9)">100</text>
<text class="nm" transform="translate(1165.91 583.01) rotate(44.33)">ko03430</text>
<path d="M1216.13 592.18A292.4 292.4 0 0 1 1179.53 560.65L1188.37 551.95A280 280 0 0 0 1223.42 582.14Z" fill="#EF3B2C"/>
<text class="nu" transform="translate(1201.22 572.47) rotate(40.74)">51</text>
<path d="M1231.18 571.47A266.8 266.8 0 0 1 1202 546.9L1210.65 538.01A254.4 254.4 0 0 0 1238.47 561.43Z" fill="#6A1260"/>
<text class="nu" transform="translate(1220.14 554.96) rotate(40.1)" style="fill:#fff;stroke:#fff;stroke-width:0.1px">30</text>
<path d="M1200.31 491.99A232 232 0 0 1 1169.11 432.49L1298.08 387.2A95.3 95.3 0 0 0 1310.9 411.64Z" fill="#F0F0F0"/>
<path d="M1298.61 420.56A110.49 110.49 0 0 1 1283.75 392.23" fill="none" stroke="#D2D2D2" stroke-width="1.2"/>
<path d="M1286.32 429.49A125.68 125.68 0 0 1 1269.42 397.26" fill="none" stroke="#D2D2D2" stroke-width="1.2"/>
<path d="M1274.04 438.42A140.87 140.87 0 0 1 1255.09 402.29" fill="none" stroke="#D2D2D2" stroke-width="1.2"/>
<path d="M1261.75 447.35A156.06 156.06 0 0 1 1240.76 407.33" fill="none" stroke="#D2D2D2" stroke-width="1.2"/>
<path d="M1249.46 456.27A171.24 171.24 0 0 1 1226.43 412.36" fill="none" stroke="#D2D2D2" stroke-width="1.2"/>
<path d="M1237.17 465.2A186.43 186.43 0 0 1 1212.1 417.39" fill="none" stroke="#D2D2D2" stroke-width="1.2"/>
<path d="M1224.88 474.13A201.62 201.62 0 0 1 1197.77 422.43" fill="none" stroke="#D2D2D2" stroke-width="1.2"/>
<path d="M1212.6 483.06A216.81 216.81 0 0 1 1183.44 427.46" fill="none" stroke="#D2D2D2" stroke-width="1.2"/>
<path d="M1200.63 491.75A231.6 231.6 0 0 1 1169.48 432.36" fill="none" stroke="#D2D2D2" stroke-width="1.2"/>
<path d="M1240.15 463.04A182.75 182.75 0 0 1 1215.57 416.17L1298.08 387.2A95.3 95.3 0 0 0 1310.9 411.64Z" fill="#F9388C"/>
<path d="M1122.43 549.49A328.8 328.8 0 0 1 1077.53 463.86L1098.21 456.65A306.9 306.9 0 0 0 1140.12 536.57Z" fill="#F9388C"/>
<path d="M1122.24 548.71L1115.52 553.59" stroke="#111" stroke-width="1.25"/>
<text class="ax" text-anchor="end" transform="translate(1112.04 556.11) rotate(-36)">1</text>
<path d="M1104.81 522.1L1097.65 526.31" stroke="#111" stroke-width="1.25"/>
<text class="ax" text-anchor="end" transform="translate(1093.95 528.48) rotate(-30.45)">10</text>
<path d="M1090.04 493.93L1082.51 497.42" stroke="#111" stroke-width="1.25"/>
<text class="ax" text-anchor="end" transform="translate(1078.61 499.24) rotate(-24.9)">100</text>
<text class="nm" transform="translate(1106.51 503.25) rotate(62.33)">ko03030</text>
<path d="M1151.44 527.49A292.4 292.4 0 0 1 1124.97 483.35L1136.13 477.93A280 280 0 0 0 1161.48 520.2Z" fill="#CB181D"/>
<text class="nu" transform="translate(1142.55 502.81) rotate(59.05)">66</text>
<path d="M1172.15 512.44A266.8 266.8 0 0 1 1150.77 477.71L1161.8 472.03A254.4 254.4 0 0 0 1182.19 505.15Z" fill="#6A1260"/>
<text class="nu" transform="translate(1166.08 492.23) rotate(58.38)" style="fill:#fff;stroke:#fff;stroke-width:0.1px">38</text>
<path d="M1167.35 427.31A232 232 0 0 1 1156.06 361.09L1292.73 357.87A95.3 95.3 0 0 0 1297.36 385.07Z" fill="#F0F0F0"/>
<path d="M1282.92 389.76A110.49 110.49 0 0 1 1277.54 358.22" fill="none" stroke="#D2D2D2" stroke-width="1.2"/>
<path d="M1268.47 394.46A125.68 125.68 0 0 1 1262.36 358.58" fill="none" stroke="#D2D2D2" stroke-width="1.2"/>
<path d="M1254.03 399.15A140.87 140.87 0 0 1 1247.17 358.94" fill="none" stroke="#D2D2D2" stroke-width="1.2"/>
<path d="M1239.58 403.84A156.06 156.06 0 0 1 1231.99 359.3" fill="none" stroke="#D2D2D2" stroke-width="1.2"/>
<path d="M1225.14 408.54A171.24 171.24 0 0 1 1216.8 359.65" fill="none" stroke="#D2D2D2" stroke-width="1.2"/>
<path d="M1210.69 413.23A186.43 186.43 0 0 1 1201.62 360.01" fill="none" stroke="#D2D2D2" stroke-width="1.2"/>
<path d="M1196.25 417.92A201.62 201.62 0 0 1 1186.43 360.37" fill="none" stroke="#D2D2D2" stroke-width="1.2"/>
<path d="M1181.8 422.62A216.81 216.81 0 0 1 1171.25 360.73" fill="none" stroke="#D2D2D2" stroke-width="1.2"/>
<path d="M1167.74 427.19A231.6 231.6 0 0 1 1156.46 361.08" fill="none" stroke="#D2D2D2" stroke-width="1.2"/>
<path d="M1217.77 410.93A178.99 178.99 0 0 1 1209.06 359.84L1292.73 357.87A95.3 95.3 0 0 0 1297.36 385.07Z" fill="#F9388C"/>
<path d="M1075.52 457.93A328.8 328.8 0 0 1 1059.27 362.62L1081.17 362.15A306.9 306.9 0 0 0 1096.34 451.12Z" fill="#F9388C"/>
<path d="M1075.58 457.13L1067.68 459.7" stroke="#111" stroke-width="1.25"/>
<text class="ax" text-anchor="end" transform="translate(1063.59 461.03) rotate(-18)">1</text>
<path d="M1067.22 426.44L1059.12 428.23" stroke="#111" stroke-width="1.25"/>
<text class="ax" text-anchor="end" transform="translate(1054.92 429.16) rotate(-12.45)">10</text>
<path d="M1061.88 395.08L1053.64 396.08" stroke="#111" stroke-width="1.25"/>
<text class="ax" text-anchor="end" transform="translate(1049.37 396.6) rotate(-6.9)">100</text>
<text class="nm" transform="translate(1074.67 409.04) rotate(80.33)">ko03410</text>
<path d="M1109.91 445.98A292.4 292.4 0 0 1 1098.9 399.44L1111.16 397.58A280 280 0 0 0 1121.7 442.14Z" fill="#EF3B2C"/>
<text class="nu" transform="translate(1109.49 421.51) rotate(76.69)">49</text>
<path d="M1134.26 438.07A266.8 266.8 0 0 1 1125.3 402.21L1137.51 400.04A254.4 254.4 0 0 0 1146.05 434.23Z" fill="#6A1260"/>
<text class="nu" transform="translate(1135.17 418.79) rotate(75.97)" style="fill:#fff;stroke:#fff;stroke-width:0.1px">27</text>
<path d="M1156 355.62A232 232 0 0 1 1165.73 289.15L1296.7 328.31A95.3 95.3 0 0 0 1292.7 355.62Z" fill="#F0F0F0"/>
<path d="M1277.51 355.62A110.49 110.49 0 0 1 1282.14 323.96" fill="none" stroke="#D2D2D2" stroke-width="1.2"/>
<path d="M1262.32 355.62A125.68 125.68 0 0 1 1267.59 319.61" fill="none" stroke="#D2D2D2" stroke-width="1.2"/>
<path d="M1247.13 355.62A140.87 140.87 0 0 1 1253.04 315.26" fill="none" stroke="#D2D2D2" stroke-width="1.2"/>
<path d="M1231.94 355.62A156.06 156.06 0 0 1 1238.49 310.91" fill="none" stroke="#D2D2D2" stroke-width="1.2"/>
<path d="M1216.76 355.62A171.24 171.24 0 0 1 1223.94 306.55" fill="none" stroke="#D2D2D2" stroke-width="1.2"/>
<path d="M1201.57 355.62A186.43 186.43 0 0 1 1209.38 302.2" fill="none" stroke="#D2D2D2" stroke-width="1.2"/>
<path d="M1186.38 355.62A201.62 201.62 0 0 1 1194.83 297.85" fill="none" stroke="#D2D2D2" stroke-width="1.2"/>
<path d="M1171.19 355.62A216.81 216.81 0 0 1 1180.28 293.5" fill="none" stroke="#D2D2D2" stroke-width="1.2"/>
<path d="M1156.4 355.62A231.6 231.6 0 0 1 1166.11 289.26" fill="none" stroke="#D2D2D2" stroke-width="1.2"/>
<path d="M1219.68 355.62A168.32 168.32 0 0 1 1226.73 307.39L1296.7 328.31A95.3 95.3 0 0 0 1292.7 355.62Z" fill="#F9388C"/>
<path d="M1059.2 356.37A328.8 328.8 0 0 1 1073.2 260.7L1094.17 267.02A306.9 306.9 0 0 0 1081.1 356.32Z" fill="#F9388C"/>
<path d="M1059.5 355.62L1051.2 355.62" stroke="#111" stroke-width="1.25"/>
<text class="ax" text-anchor="end" transform="translate(1046.9 355.62) rotate(0)">1</text>
<path d="M1061.04 323.85L1052.78 323.05" stroke="#111" stroke-width="1.25"/>
<text class="ax" text-anchor="end" transform="translate(1048.5 322.63) rotate(5.55)">10</text>
<path d="M1065.65 292.38L1057.5 290.78" stroke="#111" stroke-width="1.25"/>
<text class="ax" text-anchor="end" transform="translate(1053.28 289.95) rotate(11.1)">100</text>
<text class="nm" transform="translate(1073.5 309.6) rotate(-81.68)">ko03020</text>
<path d="M1095.6 355.62A292.4 292.4 0 0 1 1099.63 307.24L1111.86 309.29A280 280 0 0 0 1108 355.62Z" fill="#FB6A4A"/>
<text class="nu" transform="translate(1102.79 331.86) rotate(-85.24)">52</text>
<path d="M1121.2 355.62A266.8 266.8 0 0 1 1123.64 319.6L1135.93 321.28A254.4 254.4 0 0 0 1133.6 355.62Z" fill="#6A1260"/>
<text class="nu" transform="translate(1128 337.99) rotate(-86.12)" style="fill:#fff;stroke:#fff;stroke-width:0.1px">25</text>
<path d="M1167.35 283.93A232 232 0 0 1 1197.15 223.71L1309.6 301.44A95.3 95.3 0 0 0 1297.36 326.17Z" fill="#F0F0F0"/>
<path d="M1282.92 321.48A110.49 110.49 0 0 1 1297.11 292.8" fill="none" stroke="#D2D2D2" stroke-width="1.2"/>
<path d="M1268.47 316.78A125.68 125.68 0 0 1 1284.61 284.16" fill="none" stroke="#D2D2D2" stroke-width="1.2"/>
<path d="M1254.03 312.09A140.87 140.87 0 0 1 1272.12 275.53" fill="none" stroke="#D2D2D2" stroke-width="1.2"/>
<path d="M1239.58 307.4A156.06 156.06 0 0 1 1259.62 266.89" fill="none" stroke="#D2D2D2" stroke-width="1.2"/>
<path d="M1225.14 302.7A171.24 171.24 0 0 1 1247.13 258.26" fill="none" stroke="#D2D2D2" stroke-width="1.2"/>
<path d="M1210.69 298.01A186.43 186.43 0 0 1 1234.63 249.62" fill="none" stroke="#D2D2D2" stroke-width="1.2"/>
<path d="M1196.25 293.32A201.62 201.62 0 0 1 1222.14 240.99" fill="none" stroke="#D2D2D2" stroke-width="1.2"/>
<path d="M1181.8 288.62A216.81 216.81 0 0 1 1209.64 232.35" fill="none" stroke="#D2D2D2" stroke-width="1.2"/>
<path d="M1167.74 284.05A231.6 231.6 0 0 1 1197.48 223.94" fill="none" stroke="#D2D2D2" stroke-width="1.2"/>
<path d="M1203.11 295.55A194.4 194.4 0 0 1 1228.07 245.09L1309.6 301.44A95.3 95.3 0 0 0 1297.36 326.17Z" fill="#914177"/>
<path d="M1075.06 254.72A328.8 328.8 0 0 1 1117.94 168.06L1135.93 180.56A306.9 306.9 0 0 0 1095.91 261.45Z" fill="#914177"/>
<path d="M1075.58 254.11L1067.68 251.54" stroke="#111" stroke-width="1.25"/>
<text class="ax" text-anchor="end" transform="translate(1063.59 250.21) rotate(18)">1</text>
<path d="M1086.86 224.37L1079.25 221.05" stroke="#111" stroke-width="1.25"/>
<text class="ax" text-anchor="end" transform="translate(1075.31 219.33) rotate(23.55)">10</text>
<path d="M1100.97 195.86L1093.71 191.82" stroke="#111" stroke-width="1.25"/>
<text class="ax" text-anchor="end" transform="translate(1089.96 189.73) rotate(29.1)">100</text>
<text class="nm" transform="translate(1103.11 214.67) rotate(-63.68)">ko04075</text>
<path d="M1109.91 265.26A292.4 292.4 0 0 1 1138.95 202.41L1149.51 208.91A280 280 0 0 0 1121.7 269.1Z" fill="#99000D"/>
<text class="nu" transform="translate(1128.19 235.58) rotate(-65.2)">282</text>
<path d="M1134.26 273.17A266.8 266.8 0 0 1 1158.28 219.93L1168.96 226.24A254.4 254.4 0 0 0 1146.05 277.01Z" fill="#6A1260"/>
<text class="nu" transform="translate(1150.46 248.44) rotate(-65.72)" style="fill:#fff;stroke:#fff;stroke-width:0.1px">184</text>
<path d="M1200.31 219.25A232 232 0 0 1 1247.25 171.19L1330.18 279.86A95.3 95.3 0 0 0 1310.9 299.6Z" fill="#F0F0F0"/>
<path d="M1298.61 290.68A110.49 110.49 0 0 1 1320.97 267.79" fill="none" stroke="#D2D2D2" stroke-width="1.2"/>
<path d="M1286.32 281.75A125.68 125.68 0 0 1 1311.75 255.71" fill="none" stroke="#D2D2D2" stroke-width="1.2"/>
<path d="M1274.04 272.82A140.87 140.87 0 0 1 1302.54 243.64" fill="none" stroke="#D2D2D2" stroke-width="1.2"/>
<path d="M1261.75 263.89A156.06 156.06 0 0 1 1293.32 231.56" fill="none" stroke="#D2D2D2" stroke-width="1.2"/>
<path d="M1249.46 254.97A171.24 171.24 0 0 1 1284.11 219.49" fill="none" stroke="#D2D2D2" stroke-width="1.2"/>
<path d="M1237.17 246.04A186.43 186.43 0 0 1 1274.89 207.42" fill="none" stroke="#D2D2D2" stroke-width="1.2"/>
<path d="M1224.88 237.11A201.62 201.62 0 0 1 1265.68 195.34" fill="none" stroke="#D2D2D2" stroke-width="1.2"/>
<path d="M1212.6 228.18A216.81 216.81 0 0 1 1256.46 183.27" fill="none" stroke="#D2D2D2" stroke-width="1.2"/>
<path d="M1200.63 219.49A231.6 231.6 0 0 1 1247.49 171.51" fill="none" stroke="#D2D2D2" stroke-width="1.2"/>
<path d="M1245.76 252.28A175.82 175.82 0 0 1 1281.33 215.85L1330.18 279.86A95.3 95.3 0 0 0 1310.9 299.6Z" fill="#914177"/>
<path d="M1121.56 162.96A328.8 328.8 0 0 1 1189.12 93.79L1202.36 111.23A306.9 306.9 0 0 0 1139.3 175.79Z" fill="#914177"/>
<path d="M1122.24 162.53L1115.52 157.65" stroke="#111" stroke-width="1.25"/>
<text class="ax" text-anchor="end" transform="translate(1112.04 155.13) rotate(36)">1</text>
<path d="M1142.16 137.73L1135.95 132.23" stroke="#111" stroke-width="1.25"/>
<text class="ax" text-anchor="end" transform="translate(1132.73 129.38) rotate(41.55)">10</text>
<path d="M1164.38 114.98L1158.73 108.9" stroke="#111" stroke-width="1.25"/>
<text class="ax" text-anchor="end" transform="translate(1155.81 105.75) rotate(47.1)">100</text>
<text class="nm" transform="translate(1160.61 133.53) rotate(-45.68)">ko04070</text>
<path d="M1151.44 183.75A292.4 292.4 0 0 1 1187.28 142.99L1195.8 152.01A280 280 0 0 0 1161.48 191.04Z" fill="#CB181D"/>
<text class="nu" transform="translate(1173.07 166.63) rotate(-48.67)">83</text>
<path d="M1172.15 198.8A266.8 266.8 0 0 1 1199.74 166.57L1208.49 175.35A254.4 254.4 0 0 0 1182.19 206.09Z" fill="#6A1260"/>
<text class="nu" transform="translate(1190.02 186.16) rotate(-49.44)" style="fill:#fff;stroke:#fff;stroke-width:0.1px">44</text>
<path d="M1251.63 167.93A232 232 0 0 1 1311.13 136.73L1356.42 265.7A95.3 95.3 0 0 0 1331.98 278.52Z" fill="#F0F0F0"/>
<path d="M1323.06 266.23A110.49 110.49 0 0 1 1351.39 251.37" fill="none" stroke="#D2D2D2" stroke-width="1.2"/>
<path d="M1314.13 253.94A125.68 125.68 0 0 1 1346.36 237.04" fill="none" stroke="#D2D2D2" stroke-width="1.2"/>
<path d="M1305.2 241.66A140.87 140.87 0 0 1 1341.33 222.71" fill="none" stroke="#D2D2D2" stroke-width="1.2"/>
<path d="M1296.27 229.37A156.06 156.06 0 0 1 1336.29 208.38" fill="none" stroke="#D2D2D2" stroke-width="1.2"/>
<path d="M1287.35 217.08A171.24 171.24 0 0 1 1331.26 194.05" fill="none" stroke="#D2D2D2" stroke-width="1.2"/>
<path d="M1278.42 204.79A186.43 186.43 0 0 1 1326.23 179.72" fill="none" stroke="#D2D2D2" stroke-width="1.2"/>
<path d="M1269.49 192.5A201.62 201.62 0 0 1 1321.19 165.39" fill="none" stroke="#D2D2D2" stroke-width="1.2"/>
<path d="M1260.56 180.22A216.81 216.81 0 0 1 1316.16 151.06" fill="none" stroke="#D2D2D2" stroke-width="1.2"/>
<path d="M1251.87 168.25A231.6 231.6 0 0 1 1311.26 137.1" fill="none" stroke="#D2D2D2" stroke-width="1.2"/>
<path d="M1297.81 231.49A153.44 153.44 0 0 1 1337.16 210.85L1356.42 265.7A95.3 95.3 0 0 0 1331.98 278.52Z" fill="#914177"/>
<path d="M1194.13 90.05A328.8 328.8 0 0 1 1279.76 45.15L1286.97 65.83A306.9 306.9 0 0 0 1207.05 107.74Z" fill="#914177"/>
<path d="M1194.91 89.86L1190.03 83.14" stroke="#111" stroke-width="1.25"/>
<text class="ax" text-anchor="end" transform="translate(1187.51 79.66) rotate(54)">1</text>
<path d="M1221.52 72.43L1217.31 65.27" stroke="#111" stroke-width="1.25"/>
<text class="ax" text-anchor="end" transform="translate(1215.14 61.57) rotate(59.55)">10</text>
<path d="M1249.69 57.66L1246.2 50.13" stroke="#111" stroke-width="1.25"/>
<text class="ax" text-anchor="end" transform="translate(1244.38 46.23) rotate(65.1)">100</text>
<text class="nm" transform="translate(1240.37 74.13) rotate(-27.67)">ko04016</text>
<path d="M1216.13 119.06A292.4 292.4 0 0 1 1273.17 86.71L1278.04 98.11A280 280 0 0 0 1223.42 129.1Z" fill="#99000D"/>
<text class="nu" transform="translate(1246.8 106.68) rotate(-29.56)">209</text>
<path d="M1231.18 139.77A266.8 266.8 0 0 1 1273.4 114.69L1278.73 125.88A254.4 254.4 0 0 0 1238.47 149.81Z" fill="#6A1260"/>
<text class="nu" transform="translate(1254.88 131.59) rotate(-30.72)" style="fill:#fff;stroke:#fff;stroke-width:0.1px">80</text>
<path d="M1316.31 134.97A232 232 0 0 1 1382.53 123.68L1385.75 260.35A95.3 95.3 0 0 0 1358.55 264.98Z" fill="#F0F0F0"/>
<path d="M1353.86 250.54A110.49 110.49 0 0 1 1385.4 245.16" fill="none" stroke="#D2D2D2" stroke-width="1.2"/>
<path d="M1349.16 236.09A125.68 125.68 0 0 1 1385.04 229.98" fill="none" stroke="#D2D2D2" stroke-width="1.2"/>
<path d="M1344.47 221.65A140.87 140.87 0 0 1 1384.68 214.79" fill="none" stroke="#D2D2D2" stroke-width="1.2"/>
<path d="M1339.78 207.2A156.06 156.06 0 0 1 1384.32 199.61" fill="none" stroke="#D2D2D2" stroke-width="1.2"/>
<path d="M1335.08 192.76A171.24 171.24 0 0 1 1383.97 184.42" fill="none" stroke="#D2D2D2" stroke-width="1.2"/>
<path d="M1330.39 178.31A186.43 186.43 0 0 1 1383.61 169.24" fill="none" stroke="#D2D2D2" stroke-width="1.2"/>
<path d="M1325.7 163.87A201.62 201.62 0 0 1 1383.25 154.05" fill="none" stroke="#D2D2D2" stroke-width="1.2"/>
<path d="M1321 149.42A216.81 216.81 0 0 1 1382.89 138.87" fill="none" stroke="#D2D2D2" stroke-width="1.2"/>
<path d="M1316.43 135.36A231.6 231.6 0 0 1 1382.54 124.08" fill="none" stroke="#D2D2D2" stroke-width="1.2"/>
<path d="M1338.83 204.29A159.11 159.11 0 0 1 1384.25 196.55L1385.75 260.35A95.3 95.3 0 0 0 1358.55 264.98Z" fill="#0392DB"/>
<path d="M1285.69 43.14A328.8 328.8 0 0 1 1381 26.89L1381.47 48.79A306.9 306.9 0 0 0 1292.5 63.96Z" fill="#0392DB"/>
<path d="M1286.49 43.2L1283.92 35.3" stroke="#111" stroke-width="1.25"/>
<text class="ax" text-anchor="end" transform="translate(1282.59 31.21) rotate(72)">1</text>
<path d="M1317.18 34.84L1315.39 26.74" stroke="#111" stroke-width="1.25"/>
<text class="ax" text-anchor="end" transform="translate(1314.46 22.54) rotate(77.55)">10</text>
<path d="M1348.54 29.5L1347.54 21.26" stroke="#111" stroke-width="1.25"/>
<text class="ax" text-anchor="end" transform="translate(1347.02 16.99) rotate(83.1)">100</text>
<text class="nm" transform="translate(1334.58 42.29) rotate(-9.67)">ko04626</text>
<path d="M1297.64 77.53A292.4 292.4 0 0 1 1365.82 64.06L1366.76 76.43A280 280 0 0 0 1301.48 89.32Z" fill="#99000D"/>
<text class="nu" transform="translate(1332.53 74.85) rotate(-11.18)">288</text>
<path d="M1305.55 101.88A266.8 266.8 0 0 1 1358.07 90.5L1359.46 102.83A254.4 254.4 0 0 0 1309.39 113.67Z" fill="#6A1260"/>
<text class="nu" transform="translate(1332.84 100.92) rotate(-12.22)" style="fill:#fff;stroke:#fff;stroke-width:0.1px">121</text>
</g>
<rect x="1317.7" y="323.8" width="40" height="13.1" fill="#9E9E9E"/>
<text class="nu" x="1337.7" y="330.8">100</text>
<text class="lg" x="1363.25" y="334.8">Number of Gene</text>
<rect x="1317.7" y="349.1" width="40" height="13.1" fill="#6A1260"/>
<text class="nu" style="fill:#fff;stroke:#fff" x="1337.7" y="356.1">10</text>
<text class="lg" x="1363.25" y="360.3">Number of DEGs</text>
<path d="M1317.7 375.9L1357.5 371L1357.5 391L1317.7 386.4Z" fill="#9E9E9E"/>
<text class="lg" x="1363.25" y="385.8">Rich Factor(0~1)</text>
<text class="ab" x="1380" y="423.9">B</text>
<g>
<rect x="1781.25" y="223.4" width="19" height="19" fill="#F7CA18"/>
<text class="lg" x="1805.85" y="237.65">Metabolism</text>
<rect x="1781.25" y="248.7" width="19" height="19" fill="#F9388C"/>
<text class="lg" x="1805.85" y="262.95">Genetic Information Processing</text>
<rect x="1781.25" y="274" width="19" height="19" fill="#914177"/>
<text class="lg" x="1805.85" y="288.25">Environmental Information Processing</text>
<rect x="1781.25" y="299.3" width="19" height="19" fill="#0392DB"/>
<text class="lg" x="1805.85" y="313.55">Organismal Systems</text>
<text class="lg" x="1780.25" y="358.6">-log10(Pvalue)</text>
<circle cx="1790.45" cy="377.4" r="9.5" fill="#FEE0D2"/>
<text class="l2" x="1805.65" y="381.5">(0,1.3]</text>
<circle cx="1790.45" cy="402.92" r="9.5" fill="#FCBBA1"/>
<text class="l2" x="1805.65" y="407.02">(1.3,2]</text>
<circle cx="1790.45" cy="428.44" r="9.5" fill="#FC9272"/>
<text class="l2" x="1805.65" y="432.54">(2,5]</text>
<circle cx="1790.45" cy="453.96" r="9.5" fill="#FB6A4A"/>
<text class="l2" x="1805.65" y="458.06">(5,10]</text>
<circle cx="1790.45" cy="479.48" r="9.5" fill="#EF3B2C"/>
<text class="l2" x="1805.65" y="483.58">(10,15]</text>
<circle cx="1790.45" cy="505" r="9.5" fill="#CB181D"/>
<text class="l2" x="1805.65" y="509.1">(15,20]</text>
<circle cx="1790.45" cy="530.52" r="9.5" fill="#99000D"/>
<text class="l2" x="1805.65" y="534.62">&gt;=20</text>
</g>
</svg>
</body></html>
